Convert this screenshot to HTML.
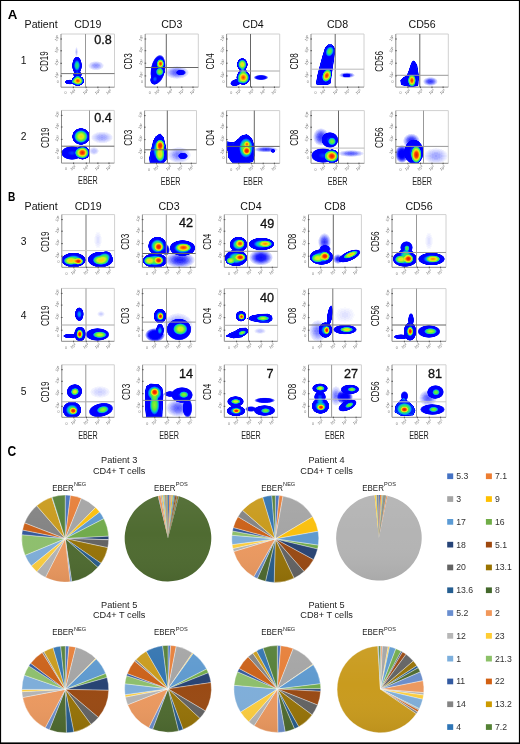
<!DOCTYPE html><html><head><meta charset="utf-8"><style>html,body{margin:0;padding:0;background:#fff;width:520px;height:744px;overflow:hidden}</style></head><body><svg width="520" height="744" viewBox="0 0 520 744" style="display:block;will-change:transform">
<defs>
<radialGradient id="bg"><stop offset="0" stop-opacity="1"/><stop offset="0.33" stop-opacity="0.87"/><stop offset="0.5" stop-opacity="0.72"/><stop offset="0.67" stop-opacity="0.52"/><stop offset="0.77" stop-opacity="0.4"/><stop offset="0.88" stop-opacity="0.26"/><stop offset="0.96" stop-opacity="0.13"/><stop offset="1" stop-opacity="0"/></radialGradient>
<filter id="jet" x="-20%" y="-20%" width="140%" height="140%" color-interpolation-filters="sRGB"><feGaussianBlur stdDeviation="0.5"/><feColorMatrix type="matrix" values="0 0 0 1 0  0 0 0 1 0  0 0 0 1 0  0 0 0 1 0"/><feComponentTransfer><feFuncR type="table" tableValues="0.45 0.294 0.15 0.025 0 0 0 0 0 0 0 0 0 0 0 0 0 0 0.0167 0.0583 0.1 0.183 0.267 0.338 0.4 0.462 0.538 0.631 0.725 0.813 0.875 0.938 1 1 1 0.998 0.985 0.972 0.956 0.938 0.92"/><feFuncG type="table" tableValues="0.5 0.344 0.188 0.0312 0 0 0 0 0 0 0 0 0 0.0208 0.125 0.229 0.367 0.513 0.642 0.746 0.85 0.871 0.892 0.904 0.91 0.916 0.924 0.933 0.943 0.941 0.894 0.847 0.8 0.693 0.586 0.479 0.375 0.271 0.201 0.141 0.08"/><feFuncB type="table" tableValues="1 1 1 1 1 1 1 1 1 1 1 1 1 1 1 1 0.983 0.962 0.892 0.746 0.6 0.475 0.35 0.281 0.25 0.219 0.194 0.178 0.162 0.144 0.112 0.0812 0.05 0.0321 0.0143 0 0 0 0.0143 0.0321 0.05"/><feFuncA type="table" tableValues="0 0.3 0.65 0.9 1 1 1 1 1 1 1 1 1 1 1 1 1 1 1 1 1 1 1 1 1 1 1 1 1 1 1 1 1 1 1 1 1 1 1 1 1"/></feComponentTransfer></filter>
<clipPath id="cp00"><rect x="61" y="34" width="53.50" height="53.20"/></clipPath>
<clipPath id="cp01"><rect x="145.2" y="34" width="53.10" height="53.10"/></clipPath>
<clipPath id="cp02"><rect x="226.6" y="34" width="53.10" height="53.10"/></clipPath>
<clipPath id="cp03"><rect x="311" y="34" width="53.00" height="53.10"/></clipPath>
<clipPath id="cp04"><rect x="395.8" y="34" width="52.50" height="53.10"/></clipPath>
<clipPath id="cp10"><rect x="61.5" y="110.4" width="52.80" height="52.70"/></clipPath>
<clipPath id="cp11"><rect x="144.6" y="110.6" width="51.90" height="52.70"/></clipPath>
<clipPath id="cp12"><rect x="226.6" y="110.6" width="53.10" height="52.70"/></clipPath>
<clipPath id="cp13"><rect x="311" y="110.6" width="53.30" height="52.70"/></clipPath>
<clipPath id="cp14"><rect x="395.8" y="110.6" width="52.50" height="52.70"/></clipPath>
<clipPath id="cp20"><rect x="61.8" y="214.6" width="52.80" height="52.70"/></clipPath>
<clipPath id="cp21"><rect x="142.4" y="214.6" width="53.30" height="52.70"/></clipPath>
<clipPath id="cp22"><rect x="224.3" y="214.6" width="53.30" height="52.70"/></clipPath>
<clipPath id="cp23"><rect x="308.5" y="214.6" width="52.90" height="52.70"/></clipPath>
<clipPath id="cp24"><rect x="392" y="214.6" width="54.00" height="52.70"/></clipPath>
<clipPath id="cp30"><rect x="61.5" y="288.4" width="52.80" height="52.90"/></clipPath>
<clipPath id="cp31"><rect x="142.4" y="288.6" width="53.30" height="52.70"/></clipPath>
<clipPath id="cp32"><rect x="224.3" y="288.6" width="53.30" height="52.70"/></clipPath>
<clipPath id="cp33"><rect x="308.5" y="288.6" width="52.90" height="52.70"/></clipPath>
<clipPath id="cp34"><rect x="392" y="288.6" width="54.00" height="52.70"/></clipPath>
<clipPath id="cp40"><rect x="61.8" y="364.8" width="52.50" height="52.50"/></clipPath>
<clipPath id="cp41"><rect x="142.6" y="364.8" width="53.10" height="52.50"/></clipPath>
<clipPath id="cp42"><rect x="224.3" y="364.8" width="53.30" height="52.50"/></clipPath>
<clipPath id="cp43"><rect x="308.5" y="364.8" width="52.90" height="52.50"/></clipPath>
<clipPath id="cp44"><rect x="392" y="364.8" width="54.00" height="52.50"/></clipPath>
<linearGradient id="pshade" x1="0" y1="0" x2="0" y2="1"><stop offset="0" stop-color="#fff" stop-opacity="0.05"/><stop offset="0.45" stop-color="#fff" stop-opacity="0"/><stop offset="1" stop-color="#000" stop-opacity="0.06"/></linearGradient>
</defs>
<rect width="520" height="744" fill="#fff"/>
<g font-family='"Liberation Sans", sans-serif'>
<text x="7.7" y="18.6" font-size="13.3" font-weight="bold" fill="#000">A</text>
<text transform="translate(8.1,201) scale(0.8,1)" font-size="12.7" font-weight="bold" fill="#000">B</text>
<text transform="translate(7.6,456.1) scale(0.86,1)" font-size="14" font-weight="bold" fill="#000">C</text>
<text x="24.6" y="28.3" font-size="10.6" text-anchor="start" font-weight="normal" fill="#111" >Patient</text>
<text x="24.6" y="210" font-size="10.6" text-anchor="start" font-weight="normal" fill="#111" >Patient</text>
<text x="87.75" y="28.3" font-size="10.6" text-anchor="middle" font-weight="normal" fill="#111" >CD19</text>
<text x="23.5" y="64.3" font-size="10.3" text-anchor="middle" font-weight="normal" fill="#111" >1</text>
<text transform="translate(48.0,61.5) rotate(-90) scale(0.72,1)" font-size="11.2" text-anchor="middle" fill="#111">CD19</text>
<g clip-path="url(#cp00)"><g filter="url(#jet)">
<ellipse cx="77" cy="65.5" rx="5" ry="9" fill="url(#bg)" fill-opacity="0.55"/>
<ellipse cx="77.5" cy="74.5" rx="4.5" ry="3.5" fill="url(#bg)" fill-opacity="0.35"/>
<ellipse cx="77.8" cy="80.8" rx="6.5" ry="5.2" fill="url(#bg)" fill-opacity="0.95"/>
<ellipse cx="70" cy="82" rx="5.5" ry="2.6" fill="url(#bg)" fill-opacity="0.35"/>
<ellipse cx="96" cy="65.7" rx="8" ry="4.7" fill="url(#bg)" fill-opacity="0.045"/>
<ellipse cx="76.5" cy="52" rx="1.5" ry="5" fill="url(#bg)" fill-opacity="0.03"/>
</g></g>
<path d="M61,34H114.5V87.2" fill="none" stroke="#d0d0d0" stroke-width="1"/>
<path d="M61,34V87.2H114.5" fill="none" stroke="#8a8a8a" stroke-width="1"/>
<line x1="85.5" y1="34" x2="85.5" y2="87.2" stroke="#999" stroke-width="1"/>
<line x1="61" y1="73.6" x2="114.5" y2="73.6" stroke="#777" stroke-width="1"/>
<text transform="translate(56.8,41.4) rotate(-62)" font-size="3.9" fill="#666">10<tspan font-size="2.8" dy="-1.4">5</tspan></text>
<rect x="60.4" y="38.5" width="1.6" height="1" fill="#555"/>
<text transform="translate(56.8,53.2) rotate(-62)" font-size="3.9" fill="#666">10<tspan font-size="2.8" dy="-1.4">4</tspan></text>
<rect x="60.4" y="50.3" width="1.6" height="1" fill="#555"/>
<text transform="translate(56.8,65.7) rotate(-62)" font-size="3.9" fill="#666">10<tspan font-size="2.8" dy="-1.4">3</tspan></text>
<rect x="60.4" y="62.8" width="1.6" height="1" fill="#555"/>
<text transform="translate(56.8,78.4) rotate(-62)" font-size="3.9" fill="#666">10<tspan font-size="2.8" dy="-1.4">2</tspan></text>
<rect x="60.4" y="75.5" width="1.6" height="1" fill="#555"/>
<text x="56.8" y="83.2" font-size="3.6" fill="#777">0</text>
<text transform="translate(71.3,94.8) rotate(-35)" font-size="3.9" fill="#666">10<tspan font-size="2.8" dy="-1.4">2</tspan></text>
<rect x="72.8" y="86.6" width="1" height="1.6" fill="#555"/>
<text transform="translate(84.1,94.8) rotate(-35)" font-size="3.9" fill="#666">10<tspan font-size="2.8" dy="-1.4">3</tspan></text>
<rect x="85.6" y="86.6" width="1" height="1.6" fill="#555"/>
<text transform="translate(95.9,94.8) rotate(-35)" font-size="3.9" fill="#666">10<tspan font-size="2.8" dy="-1.4">4</tspan></text>
<rect x="97.4" y="86.6" width="1" height="1.6" fill="#555"/>
<text transform="translate(107.2,94.8) rotate(-35)" font-size="3.9" fill="#666">10<tspan font-size="2.8" dy="-1.4">5</tspan></text>
<rect x="108.7" y="86.6" width="1" height="1.6" fill="#555"/>
<text x="64.6" y="94.4" font-size="3.6" fill="#777">0</text>
<text x="111.8" y="43.8" font-size="12.6" text-anchor="end" fill="#111" stroke="#111" stroke-width="0.32">0.8</text>
<text x="171.75" y="28.3" font-size="10.6" text-anchor="middle" font-weight="normal" fill="#111" >CD3</text>
<text transform="translate(132.2,61.4) rotate(-90) scale(0.72,1)" font-size="11.2" text-anchor="middle" fill="#111">CD3</text>
<g clip-path="url(#cp01)"><g filter="url(#jet)">
<ellipse cx="158" cy="69.5" rx="7.5" ry="15" fill="url(#bg)" fill-opacity="0.32" transform="rotate(10 158 69.5)"/>
<ellipse cx="160.5" cy="63.7" rx="4" ry="5" fill="url(#bg)" fill-opacity="0.95"/>
<ellipse cx="160.2" cy="72" rx="4.5" ry="4.5" fill="url(#bg)" fill-opacity="0.55"/>
<ellipse cx="154.5" cy="80" rx="4.5" ry="5" fill="url(#bg)" fill-opacity="0.3"/>
<ellipse cx="177" cy="72.5" rx="12" ry="6.5" fill="url(#bg)" fill-opacity="0.06"/>
<ellipse cx="181" cy="72.5" rx="5" ry="3" fill="url(#bg)" fill-opacity="0.12"/>
</g></g>
<path d="M145.2,34H198.3V87.1" fill="none" stroke="#d0d0d0" stroke-width="1"/>
<path d="M145.2,34V87.1H198.3" fill="none" stroke="#8a8a8a" stroke-width="1"/>
<line x1="166.3" y1="34" x2="166.3" y2="87.1" stroke="#666" stroke-width="1"/>
<line x1="145.2" y1="67.5" x2="198.3" y2="67.5" stroke="#666" stroke-width="1"/>
<text transform="translate(141.0,41.4) rotate(-62)" font-size="3.9" fill="#666">10<tspan font-size="2.8" dy="-1.4">5</tspan></text>
<rect x="144.6" y="38.5" width="1.6" height="1" fill="#555"/>
<text transform="translate(141.0,53.1) rotate(-62)" font-size="3.9" fill="#666">10<tspan font-size="2.8" dy="-1.4">4</tspan></text>
<rect x="144.6" y="50.2" width="1.6" height="1" fill="#555"/>
<text transform="translate(141.0,65.6) rotate(-62)" font-size="3.9" fill="#666">10<tspan font-size="2.8" dy="-1.4">3</tspan></text>
<rect x="144.6" y="62.7" width="1.6" height="1" fill="#555"/>
<text transform="translate(141.0,78.3) rotate(-62)" font-size="3.9" fill="#666">10<tspan font-size="2.8" dy="-1.4">2</tspan></text>
<rect x="144.6" y="75.4" width="1.6" height="1" fill="#555"/>
<text x="141.0" y="83.1" font-size="3.6" fill="#777">0</text>
<text transform="translate(155.4,94.7) rotate(-35)" font-size="3.9" fill="#666">10<tspan font-size="2.8" dy="-1.4">2</tspan></text>
<rect x="156.9" y="86.5" width="1" height="1.6" fill="#555"/>
<text transform="translate(168.2,94.7) rotate(-35)" font-size="3.9" fill="#666">10<tspan font-size="2.8" dy="-1.4">3</tspan></text>
<rect x="169.7" y="86.5" width="1" height="1.6" fill="#555"/>
<text transform="translate(179.8,94.7) rotate(-35)" font-size="3.9" fill="#666">10<tspan font-size="2.8" dy="-1.4">4</tspan></text>
<rect x="181.3" y="86.5" width="1" height="1.6" fill="#555"/>
<text transform="translate(191.0,94.7) rotate(-35)" font-size="3.9" fill="#666">10<tspan font-size="2.8" dy="-1.4">5</tspan></text>
<rect x="192.5" y="86.5" width="1" height="1.6" fill="#555"/>
<text x="148.8" y="94.3" font-size="3.6" fill="#777">0</text>
<text x="253.14999999999998" y="28.3" font-size="10.6" text-anchor="middle" font-weight="normal" fill="#111" >CD4</text>
<text transform="translate(213.6,61.4) rotate(-90) scale(0.72,1)" font-size="11.2" text-anchor="middle" fill="#111">CD4</text>
<g clip-path="url(#cp02)"><g filter="url(#jet)">
<ellipse cx="242.3" cy="64.5" rx="5.5" ry="6.5" fill="url(#bg)" fill-opacity="0.8"/>
<ellipse cx="243" cy="71" rx="4" ry="3" fill="url(#bg)" fill-opacity="0.3"/>
<ellipse cx="243.3" cy="77.5" rx="7" ry="7.5" fill="url(#bg)" fill-opacity="0.95"/>
<ellipse cx="236" cy="82.5" rx="6" ry="3.5" fill="url(#bg)" fill-opacity="0.32" transform="rotate(-15 236 82.5)"/>
<ellipse cx="261" cy="77.5" rx="7.5" ry="2.8" fill="url(#bg)" fill-opacity="0.16"/>
</g></g>
<path d="M226.6,34H279.7V87.1" fill="none" stroke="#d0d0d0" stroke-width="1"/>
<path d="M226.6,34V87.1H279.7" fill="none" stroke="#8a8a8a" stroke-width="1"/>
<line x1="250.5" y1="34" x2="250.5" y2="87.1" stroke="#666" stroke-width="1"/>
<line x1="226.6" y1="71" x2="279.7" y2="71" stroke="#aaa" stroke-width="1"/>
<text transform="translate(222.4,41.4) rotate(-62)" font-size="3.9" fill="#666">10<tspan font-size="2.8" dy="-1.4">5</tspan></text>
<rect x="226.0" y="38.5" width="1.6" height="1" fill="#555"/>
<text transform="translate(222.4,53.1) rotate(-62)" font-size="3.9" fill="#666">10<tspan font-size="2.8" dy="-1.4">4</tspan></text>
<rect x="226.0" y="50.2" width="1.6" height="1" fill="#555"/>
<text transform="translate(222.4,65.6) rotate(-62)" font-size="3.9" fill="#666">10<tspan font-size="2.8" dy="-1.4">3</tspan></text>
<rect x="226.0" y="62.7" width="1.6" height="1" fill="#555"/>
<text transform="translate(222.4,78.3) rotate(-62)" font-size="3.9" fill="#666">10<tspan font-size="2.8" dy="-1.4">2</tspan></text>
<rect x="226.0" y="75.4" width="1.6" height="1" fill="#555"/>
<text x="222.4" y="83.1" font-size="3.6" fill="#777">0</text>
<text transform="translate(236.8,94.7) rotate(-35)" font-size="3.9" fill="#666">10<tspan font-size="2.8" dy="-1.4">2</tspan></text>
<rect x="238.3" y="86.5" width="1" height="1.6" fill="#555"/>
<text transform="translate(249.6,94.7) rotate(-35)" font-size="3.9" fill="#666">10<tspan font-size="2.8" dy="-1.4">3</tspan></text>
<rect x="251.1" y="86.5" width="1" height="1.6" fill="#555"/>
<text transform="translate(261.2,94.7) rotate(-35)" font-size="3.9" fill="#666">10<tspan font-size="2.8" dy="-1.4">4</tspan></text>
<rect x="262.7" y="86.5" width="1" height="1.6" fill="#555"/>
<text transform="translate(272.4,94.7) rotate(-35)" font-size="3.9" fill="#666">10<tspan font-size="2.8" dy="-1.4">5</tspan></text>
<rect x="273.9" y="86.5" width="1" height="1.6" fill="#555"/>
<text x="230.2" y="94.3" font-size="3.6" fill="#777">0</text>
<text x="337.5" y="28.3" font-size="10.6" text-anchor="middle" font-weight="normal" fill="#111" >CD8</text>
<text transform="translate(298.0,61.4) rotate(-90) scale(0.72,1)" font-size="11.2" text-anchor="middle" fill="#111">CD8</text>
<g clip-path="url(#cp03)"><g filter="url(#jet)">
<polygon points="316.4,84 318,75 320,67 323,56 325.5,48 328,45 332,45 334.5,48.5 334,55 332.5,66 331,76 330,83.5 326,84.5" fill="#000" fill-opacity="0.3" stroke="#000" stroke-opacity="0.150" stroke-width="1" stroke-linejoin="round"/>
<ellipse cx="329.7" cy="51.5" rx="4" ry="5.5" fill="url(#bg)" fill-opacity="0.42" transform="rotate(22 329.7 51.5)"/>
<ellipse cx="326.8" cy="75.6" rx="4.5" ry="6.5" fill="url(#bg)" fill-opacity="0.95" transform="rotate(20 326.8 75.6)"/>
<ellipse cx="347" cy="75.2" rx="8" ry="3" fill="url(#bg)" fill-opacity="0.08"/>
<ellipse cx="346.5" cy="75.5" rx="4" ry="2" fill="url(#bg)" fill-opacity="0.12"/>
</g></g>
<path d="M311,34H364V87.1" fill="none" stroke="#d0d0d0" stroke-width="1"/>
<path d="M311,34V87.1H364" fill="none" stroke="#8a8a8a" stroke-width="1"/>
<line x1="335.2" y1="34" x2="335.2" y2="87.1" stroke="#666" stroke-width="1"/>
<line x1="311" y1="69.2" x2="364" y2="69.2" stroke="#bbb" stroke-width="1"/>
<text transform="translate(306.8,41.4) rotate(-62)" font-size="3.9" fill="#666">10<tspan font-size="2.8" dy="-1.4">5</tspan></text>
<rect x="310.4" y="38.5" width="1.6" height="1" fill="#555"/>
<text transform="translate(306.8,53.1) rotate(-62)" font-size="3.9" fill="#666">10<tspan font-size="2.8" dy="-1.4">4</tspan></text>
<rect x="310.4" y="50.2" width="1.6" height="1" fill="#555"/>
<text transform="translate(306.8,65.6) rotate(-62)" font-size="3.9" fill="#666">10<tspan font-size="2.8" dy="-1.4">3</tspan></text>
<rect x="310.4" y="62.7" width="1.6" height="1" fill="#555"/>
<text transform="translate(306.8,78.3) rotate(-62)" font-size="3.9" fill="#666">10<tspan font-size="2.8" dy="-1.4">2</tspan></text>
<rect x="310.4" y="75.4" width="1.6" height="1" fill="#555"/>
<text x="306.8" y="83.1" font-size="3.6" fill="#777">0</text>
<text transform="translate(321.2,94.7) rotate(-35)" font-size="3.9" fill="#666">10<tspan font-size="2.8" dy="-1.4">2</tspan></text>
<rect x="322.7" y="86.5" width="1" height="1.6" fill="#555"/>
<text transform="translate(333.9,94.7) rotate(-35)" font-size="3.9" fill="#666">10<tspan font-size="2.8" dy="-1.4">3</tspan></text>
<rect x="335.4" y="86.5" width="1" height="1.6" fill="#555"/>
<text transform="translate(345.6,94.7) rotate(-35)" font-size="3.9" fill="#666">10<tspan font-size="2.8" dy="-1.4">4</tspan></text>
<rect x="347.1" y="86.5" width="1" height="1.6" fill="#555"/>
<text transform="translate(356.7,94.7) rotate(-35)" font-size="3.9" fill="#666">10<tspan font-size="2.8" dy="-1.4">5</tspan></text>
<rect x="358.2" y="86.5" width="1" height="1.6" fill="#555"/>
<text x="314.6" y="94.3" font-size="3.6" fill="#777">0</text>
<text x="422.05" y="28.3" font-size="10.6" text-anchor="middle" font-weight="normal" fill="#111" >CD56</text>
<text transform="translate(382.8,61.4) rotate(-90) scale(0.72,1)" font-size="11.2" text-anchor="middle" fill="#111">CD56</text>
<g clip-path="url(#cp04)"><g filter="url(#jet)">
<polygon points="401,80.5 401.5,84.5 410.8,86.5 417.7,85.5 418.3,76 416.5,64.5 413.7,61 412,62.5 409,71.5 407,76 403,78" fill="#000" fill-opacity="0.3" stroke="#000" stroke-opacity="0.150" stroke-width="1" stroke-linejoin="round"/>
<ellipse cx="411.9" cy="80.5" rx="4" ry="6" fill="url(#bg)" fill-opacity="0.95"/>
<ellipse cx="430.4" cy="81.5" rx="7.5" ry="4.5" fill="url(#bg)" fill-opacity="0.07"/>
</g></g>
<path d="M395.8,34H448.3V87.1" fill="none" stroke="#d0d0d0" stroke-width="1"/>
<path d="M395.8,34V87.1H448.3" fill="none" stroke="#8a8a8a" stroke-width="1"/>
<line x1="419.8" y1="34" x2="419.8" y2="87.1" stroke="#666" stroke-width="1"/>
<line x1="395.8" y1="75.3" x2="448.3" y2="75.3" stroke="#999" stroke-width="1"/>
<text transform="translate(391.6,41.4) rotate(-62)" font-size="3.9" fill="#666">10<tspan font-size="2.8" dy="-1.4">5</tspan></text>
<rect x="395.2" y="38.5" width="1.6" height="1" fill="#555"/>
<text transform="translate(391.6,53.1) rotate(-62)" font-size="3.9" fill="#666">10<tspan font-size="2.8" dy="-1.4">4</tspan></text>
<rect x="395.2" y="50.2" width="1.6" height="1" fill="#555"/>
<text transform="translate(391.6,65.6) rotate(-62)" font-size="3.9" fill="#666">10<tspan font-size="2.8" dy="-1.4">3</tspan></text>
<rect x="395.2" y="62.7" width="1.6" height="1" fill="#555"/>
<text transform="translate(391.6,78.3) rotate(-62)" font-size="3.9" fill="#666">10<tspan font-size="2.8" dy="-1.4">2</tspan></text>
<rect x="395.2" y="75.4" width="1.6" height="1" fill="#555"/>
<text x="391.6" y="83.1" font-size="3.6" fill="#777">0</text>
<text transform="translate(405.9,94.7) rotate(-35)" font-size="3.9" fill="#666">10<tspan font-size="2.8" dy="-1.4">2</tspan></text>
<rect x="407.4" y="86.5" width="1" height="1.6" fill="#555"/>
<text transform="translate(418.5,94.7) rotate(-35)" font-size="3.9" fill="#666">10<tspan font-size="2.8" dy="-1.4">3</tspan></text>
<rect x="420.0" y="86.5" width="1" height="1.6" fill="#555"/>
<text transform="translate(430.0,94.7) rotate(-35)" font-size="3.9" fill="#666">10<tspan font-size="2.8" dy="-1.4">4</tspan></text>
<rect x="431.5" y="86.5" width="1" height="1.6" fill="#555"/>
<text transform="translate(441.1,94.7) rotate(-35)" font-size="3.9" fill="#666">10<tspan font-size="2.8" dy="-1.4">5</tspan></text>
<rect x="442.6" y="86.5" width="1" height="1.6" fill="#555"/>
<text x="399.4" y="94.3" font-size="3.6" fill="#777">0</text>
<text x="23.5" y="140.45" font-size="10.3" text-anchor="middle" font-weight="normal" fill="#111" >2</text>
<text transform="translate(48.5,137.7) rotate(-90) scale(0.72,1)" font-size="11.2" text-anchor="middle" fill="#111">CD19</text>
<g clip-path="url(#cp10)"><g filter="url(#jet)">
<ellipse cx="81" cy="136.5" rx="9" ry="8.5" fill="url(#bg)" fill-opacity="0.8"/>
<ellipse cx="82.5" cy="152.7" rx="7.5" ry="7" fill="url(#bg)" fill-opacity="1.0"/>
<ellipse cx="72" cy="153" rx="11" ry="7" fill="url(#bg)" fill-opacity="0.38"/>
<ellipse cx="102" cy="137.5" rx="11" ry="6" fill="url(#bg)" fill-opacity="0.04"/>
<ellipse cx="94" cy="151" rx="5" ry="4" fill="url(#bg)" fill-opacity="0.03"/>
</g></g>
<path d="M61.5,110.4H114.3V163.1" fill="none" stroke="#d0d0d0" stroke-width="1"/>
<path d="M61.5,110.4V163.1H114.3" fill="none" stroke="#8a8a8a" stroke-width="1"/>
<line x1="89.5" y1="110.4" x2="89.5" y2="163.1" stroke="#999" stroke-width="1"/>
<line x1="61.5" y1="146.2" x2="114.3" y2="146.2" stroke="#666" stroke-width="1"/>
<text transform="translate(57.3,117.8) rotate(-62)" font-size="3.9" fill="#666">10<tspan font-size="2.8" dy="-1.4">5</tspan></text>
<rect x="60.9" y="114.9" width="1.6" height="1" fill="#555"/>
<text transform="translate(57.3,129.4) rotate(-62)" font-size="3.9" fill="#666">10<tspan font-size="2.8" dy="-1.4">4</tspan></text>
<rect x="60.9" y="126.5" width="1.6" height="1" fill="#555"/>
<text transform="translate(57.3,141.8) rotate(-62)" font-size="3.9" fill="#666">10<tspan font-size="2.8" dy="-1.4">3</tspan></text>
<rect x="60.9" y="138.9" width="1.6" height="1" fill="#555"/>
<text transform="translate(57.3,154.4) rotate(-62)" font-size="3.9" fill="#666">10<tspan font-size="2.8" dy="-1.4">2</tspan></text>
<rect x="60.9" y="151.5" width="1.6" height="1" fill="#555"/>
<text x="57.3" y="159.1" font-size="3.6" fill="#777">0</text>
<text transform="translate(71.6,170.7) rotate(-35)" font-size="3.9" fill="#666">10<tspan font-size="2.8" dy="-1.4">2</tspan></text>
<rect x="73.1" y="162.5" width="1" height="1.6" fill="#555"/>
<text transform="translate(84.3,170.7) rotate(-35)" font-size="3.9" fill="#666">10<tspan font-size="2.8" dy="-1.4">3</tspan></text>
<rect x="85.8" y="162.5" width="1" height="1.6" fill="#555"/>
<text transform="translate(95.9,170.7) rotate(-35)" font-size="3.9" fill="#666">10<tspan font-size="2.8" dy="-1.4">4</tspan></text>
<rect x="97.4" y="162.5" width="1" height="1.6" fill="#555"/>
<text transform="translate(107.0,170.7) rotate(-35)" font-size="3.9" fill="#666">10<tspan font-size="2.8" dy="-1.4">5</tspan></text>
<rect x="108.5" y="162.5" width="1" height="1.6" fill="#555"/>
<text x="65.1" y="170.3" font-size="3.6" fill="#777">0</text>
<text x="111.8" y="122.3" font-size="12.6" text-anchor="end" fill="#111" stroke="#111" stroke-width="0.32">0.4</text>
<text transform="translate(87.9,184.4) scale(0.68,1)" font-size="10.6" text-anchor="middle" fill="#222">EBER</text>
<text transform="translate(131.6,137.8) rotate(-90) scale(0.72,1)" font-size="11.2" text-anchor="middle" fill="#111">CD3</text>
<g clip-path="url(#cp11)"><g filter="url(#jet)">
<polygon points="160.2,134 163,137 164.8,144 166.5,152 166,160 163,163.3 150.4,163.3 149.8,158 151.5,150 153.8,140.6 156.2,136.6" fill="#000" fill-opacity="0.3" stroke="#000" stroke-opacity="0.150" stroke-width="1" stroke-linejoin="round"/>
<ellipse cx="160.2" cy="145.6" rx="4.5" ry="6" fill="url(#bg)" fill-opacity="1.0"/>
<ellipse cx="160.2" cy="155" rx="4.5" ry="7" fill="url(#bg)" fill-opacity="0.58"/>
<ellipse cx="159" cy="150" rx="6" ry="10" fill="url(#bg)" fill-opacity="0.4"/>
<ellipse cx="179" cy="155" rx="12" ry="8" fill="url(#bg)" fill-opacity="0.05"/>
<ellipse cx="183" cy="156" rx="5" ry="3.5" fill="url(#bg)" fill-opacity="0.15"/>
</g></g>
<path d="M144.6,110.6H196.5V163.3" fill="none" stroke="#d0d0d0" stroke-width="1"/>
<path d="M144.6,110.6V163.3H196.5" fill="none" stroke="#8a8a8a" stroke-width="1"/>
<line x1="167.3" y1="110.6" x2="167.3" y2="163.3" stroke="#666" stroke-width="1"/>
<line x1="144.6" y1="149.8" x2="196.5" y2="149.8" stroke="#666" stroke-width="1"/>
<text transform="translate(140.4,118.0) rotate(-62)" font-size="3.9" fill="#666">10<tspan font-size="2.8" dy="-1.4">5</tspan></text>
<rect x="144.0" y="115.1" width="1.6" height="1" fill="#555"/>
<text transform="translate(140.4,129.6) rotate(-62)" font-size="3.9" fill="#666">10<tspan font-size="2.8" dy="-1.4">4</tspan></text>
<rect x="144.0" y="126.7" width="1.6" height="1" fill="#555"/>
<text transform="translate(140.4,142.0) rotate(-62)" font-size="3.9" fill="#666">10<tspan font-size="2.8" dy="-1.4">3</tspan></text>
<rect x="144.0" y="139.1" width="1.6" height="1" fill="#555"/>
<text transform="translate(140.4,154.6) rotate(-62)" font-size="3.9" fill="#666">10<tspan font-size="2.8" dy="-1.4">2</tspan></text>
<rect x="144.0" y="151.7" width="1.6" height="1" fill="#555"/>
<text x="140.4" y="159.3" font-size="3.6" fill="#777">0</text>
<text transform="translate(154.5,170.9) rotate(-35)" font-size="3.9" fill="#666">10<tspan font-size="2.8" dy="-1.4">2</tspan></text>
<rect x="156.0" y="162.7" width="1" height="1.6" fill="#555"/>
<text transform="translate(167.0,170.9) rotate(-35)" font-size="3.9" fill="#666">10<tspan font-size="2.8" dy="-1.4">3</tspan></text>
<rect x="168.5" y="162.7" width="1" height="1.6" fill="#555"/>
<text transform="translate(178.4,170.9) rotate(-35)" font-size="3.9" fill="#666">10<tspan font-size="2.8" dy="-1.4">4</tspan></text>
<rect x="179.9" y="162.7" width="1" height="1.6" fill="#555"/>
<text transform="translate(189.3,170.9) rotate(-35)" font-size="3.9" fill="#666">10<tspan font-size="2.8" dy="-1.4">5</tspan></text>
<rect x="190.8" y="162.7" width="1" height="1.6" fill="#555"/>
<text x="148.1" y="170.5" font-size="3.6" fill="#777">0</text>
<text transform="translate(170.6,184.6) scale(0.68,1)" font-size="10.6" text-anchor="middle" fill="#222">EBER</text>
<text transform="translate(213.6,137.8) rotate(-90) scale(0.72,1)" font-size="11.2" text-anchor="middle" fill="#111">CD4</text>
<g clip-path="url(#cp12)"><g filter="url(#jet)">
<polygon points="246.8,134.8 251.4,138.3 253.7,145.2 254.3,154.5 252.6,161.4 245,163.3 233.5,163.3 228.9,157.9 228.3,151 226.8,148.7 226.8,142 233.5,143 238.2,139.5 241.6,136" fill="#000" fill-opacity="0.3" stroke="#000" stroke-opacity="0.150" stroke-width="1" stroke-linejoin="round"/>
<ellipse cx="246" cy="148" rx="7" ry="10" fill="url(#bg)" fill-opacity="0.55"/>
<ellipse cx="246.8" cy="151" rx="4" ry="4" fill="url(#bg)" fill-opacity="1.0"/>
<ellipse cx="247" cy="144" rx="3" ry="3" fill="url(#bg)" fill-opacity="0.75"/>
<ellipse cx="266" cy="149.5" rx="12" ry="3" fill="url(#bg)" fill-opacity="0.07"/>
<ellipse cx="273" cy="151" rx="2.5" ry="2" fill="url(#bg)" fill-opacity="0.2"/>
</g></g>
<path d="M226.6,110.6H279.7V163.3" fill="none" stroke="#d0d0d0" stroke-width="1"/>
<path d="M226.6,110.6V163.3H279.7" fill="none" stroke="#8a8a8a" stroke-width="1"/>
<line x1="254.3" y1="110.6" x2="254.3" y2="163.3" stroke="#666" stroke-width="1"/>
<line x1="226.6" y1="146.4" x2="279.7" y2="146.4" stroke="#666" stroke-width="1"/>
<text transform="translate(222.4,118.0) rotate(-62)" font-size="3.9" fill="#666">10<tspan font-size="2.8" dy="-1.4">5</tspan></text>
<rect x="226.0" y="115.1" width="1.6" height="1" fill="#555"/>
<text transform="translate(222.4,129.6) rotate(-62)" font-size="3.9" fill="#666">10<tspan font-size="2.8" dy="-1.4">4</tspan></text>
<rect x="226.0" y="126.7" width="1.6" height="1" fill="#555"/>
<text transform="translate(222.4,142.0) rotate(-62)" font-size="3.9" fill="#666">10<tspan font-size="2.8" dy="-1.4">3</tspan></text>
<rect x="226.0" y="139.1" width="1.6" height="1" fill="#555"/>
<text transform="translate(222.4,154.6) rotate(-62)" font-size="3.9" fill="#666">10<tspan font-size="2.8" dy="-1.4">2</tspan></text>
<rect x="226.0" y="151.7" width="1.6" height="1" fill="#555"/>
<text x="222.4" y="159.3" font-size="3.6" fill="#777">0</text>
<text transform="translate(236.8,170.9) rotate(-35)" font-size="3.9" fill="#666">10<tspan font-size="2.8" dy="-1.4">2</tspan></text>
<rect x="238.3" y="162.7" width="1" height="1.6" fill="#555"/>
<text transform="translate(249.6,170.9) rotate(-35)" font-size="3.9" fill="#666">10<tspan font-size="2.8" dy="-1.4">3</tspan></text>
<rect x="251.1" y="162.7" width="1" height="1.6" fill="#555"/>
<text transform="translate(261.2,170.9) rotate(-35)" font-size="3.9" fill="#666">10<tspan font-size="2.8" dy="-1.4">4</tspan></text>
<rect x="262.7" y="162.7" width="1" height="1.6" fill="#555"/>
<text transform="translate(272.4,170.9) rotate(-35)" font-size="3.9" fill="#666">10<tspan font-size="2.8" dy="-1.4">5</tspan></text>
<rect x="273.9" y="162.7" width="1" height="1.6" fill="#555"/>
<text x="230.2" y="170.5" font-size="3.6" fill="#777">0</text>
<text transform="translate(253.1,184.6) scale(0.68,1)" font-size="10.6" text-anchor="middle" fill="#222">EBER</text>
<text transform="translate(298.0,137.8) rotate(-90) scale(0.72,1)" font-size="11.2" text-anchor="middle" fill="#111">CD8</text>
<g clip-path="url(#cp13)"><g filter="url(#jet)">
<ellipse cx="330" cy="140" rx="8.5" ry="8" fill="url(#bg)" fill-opacity="0.38"/>
<ellipse cx="332.5" cy="141.8" rx="4.5" ry="4.5" fill="url(#bg)" fill-opacity="0.47"/>
<ellipse cx="321" cy="137" rx="8" ry="9" fill="url(#bg)" fill-opacity="0.07"/>
<ellipse cx="332" cy="156.2" rx="7.5" ry="7" fill="url(#bg)" fill-opacity="1.0"/>
<ellipse cx="323" cy="155.5" rx="12" ry="7.5" fill="url(#bg)" fill-opacity="0.38"/>
<ellipse cx="351" cy="153.5" rx="13" ry="3.5" fill="url(#bg)" fill-opacity="0.06"/>
</g></g>
<path d="M311,110.6H364.3V163.3" fill="none" stroke="#d0d0d0" stroke-width="1"/>
<path d="M311,110.6V163.3H364.3" fill="none" stroke="#8a8a8a" stroke-width="1"/>
<line x1="338.5" y1="110.6" x2="338.5" y2="163.3" stroke="#666" stroke-width="1"/>
<line x1="311" y1="148.1" x2="364.3" y2="148.1" stroke="#bbb" stroke-width="1"/>
<text transform="translate(306.8,118.0) rotate(-62)" font-size="3.9" fill="#666">10<tspan font-size="2.8" dy="-1.4">5</tspan></text>
<rect x="310.4" y="115.1" width="1.6" height="1" fill="#555"/>
<text transform="translate(306.8,129.6) rotate(-62)" font-size="3.9" fill="#666">10<tspan font-size="2.8" dy="-1.4">4</tspan></text>
<rect x="310.4" y="126.7" width="1.6" height="1" fill="#555"/>
<text transform="translate(306.8,142.0) rotate(-62)" font-size="3.9" fill="#666">10<tspan font-size="2.8" dy="-1.4">3</tspan></text>
<rect x="310.4" y="139.1" width="1.6" height="1" fill="#555"/>
<text transform="translate(306.8,154.6) rotate(-62)" font-size="3.9" fill="#666">10<tspan font-size="2.8" dy="-1.4">2</tspan></text>
<rect x="310.4" y="151.7" width="1.6" height="1" fill="#555"/>
<text x="306.8" y="159.3" font-size="3.6" fill="#777">0</text>
<text transform="translate(321.3,170.9) rotate(-35)" font-size="3.9" fill="#666">10<tspan font-size="2.8" dy="-1.4">2</tspan></text>
<rect x="322.8" y="162.7" width="1" height="1.6" fill="#555"/>
<text transform="translate(334.1,170.9) rotate(-35)" font-size="3.9" fill="#666">10<tspan font-size="2.8" dy="-1.4">3</tspan></text>
<rect x="335.6" y="162.7" width="1" height="1.6" fill="#555"/>
<text transform="translate(345.8,170.9) rotate(-35)" font-size="3.9" fill="#666">10<tspan font-size="2.8" dy="-1.4">4</tspan></text>
<rect x="347.3" y="162.7" width="1" height="1.6" fill="#555"/>
<text transform="translate(357.0,170.9) rotate(-35)" font-size="3.9" fill="#666">10<tspan font-size="2.8" dy="-1.4">5</tspan></text>
<rect x="358.5" y="162.7" width="1" height="1.6" fill="#555"/>
<text x="314.6" y="170.5" font-size="3.6" fill="#777">0</text>
<text transform="translate(337.6,184.6) scale(0.68,1)" font-size="10.6" text-anchor="middle" fill="#222">EBER</text>
<text transform="translate(382.8,137.8) rotate(-90) scale(0.72,1)" font-size="11.2" text-anchor="middle" fill="#111">CD56</text>
<g clip-path="url(#cp14)"><g filter="url(#jet)">
<ellipse cx="414" cy="152" rx="10" ry="12.5" fill="url(#bg)" fill-opacity="0.42"/>
<ellipse cx="402" cy="154" rx="7" ry="9" fill="url(#bg)" fill-opacity="0.12"/>
<ellipse cx="411.5" cy="141" rx="8.5" ry="7.5" fill="url(#bg)" fill-opacity="0.08"/>
<ellipse cx="416.5" cy="155" rx="5.5" ry="9" fill="url(#bg)" fill-opacity="1.0"/>
<ellipse cx="436" cy="156" rx="12" ry="8" fill="url(#bg)" fill-opacity="0.04"/>
</g></g>
<path d="M395.8,110.6H448.3V163.3" fill="none" stroke="#d0d0d0" stroke-width="1"/>
<path d="M395.8,110.6V163.3H448.3" fill="none" stroke="#8a8a8a" stroke-width="1"/>
<line x1="423.5" y1="110.6" x2="423.5" y2="163.3" stroke="#999" stroke-width="1"/>
<line x1="395.8" y1="146.4" x2="448.3" y2="146.4" stroke="#999" stroke-width="1"/>
<text transform="translate(391.6,118.0) rotate(-62)" font-size="3.9" fill="#666">10<tspan font-size="2.8" dy="-1.4">5</tspan></text>
<rect x="395.2" y="115.1" width="1.6" height="1" fill="#555"/>
<text transform="translate(391.6,129.6) rotate(-62)" font-size="3.9" fill="#666">10<tspan font-size="2.8" dy="-1.4">4</tspan></text>
<rect x="395.2" y="126.7" width="1.6" height="1" fill="#555"/>
<text transform="translate(391.6,142.0) rotate(-62)" font-size="3.9" fill="#666">10<tspan font-size="2.8" dy="-1.4">3</tspan></text>
<rect x="395.2" y="139.1" width="1.6" height="1" fill="#555"/>
<text transform="translate(391.6,154.6) rotate(-62)" font-size="3.9" fill="#666">10<tspan font-size="2.8" dy="-1.4">2</tspan></text>
<rect x="395.2" y="151.7" width="1.6" height="1" fill="#555"/>
<text x="391.6" y="159.3" font-size="3.6" fill="#777">0</text>
<text transform="translate(405.9,170.9) rotate(-35)" font-size="3.9" fill="#666">10<tspan font-size="2.8" dy="-1.4">2</tspan></text>
<rect x="407.4" y="162.7" width="1" height="1.6" fill="#555"/>
<text transform="translate(418.5,170.9) rotate(-35)" font-size="3.9" fill="#666">10<tspan font-size="2.8" dy="-1.4">3</tspan></text>
<rect x="420.0" y="162.7" width="1" height="1.6" fill="#555"/>
<text transform="translate(430.0,170.9) rotate(-35)" font-size="3.9" fill="#666">10<tspan font-size="2.8" dy="-1.4">4</tspan></text>
<rect x="431.5" y="162.7" width="1" height="1.6" fill="#555"/>
<text transform="translate(441.1,170.9) rotate(-35)" font-size="3.9" fill="#666">10<tspan font-size="2.8" dy="-1.4">5</tspan></text>
<rect x="442.6" y="162.7" width="1" height="1.6" fill="#555"/>
<text x="399.4" y="170.5" font-size="3.6" fill="#777">0</text>
<text transform="translate(422.1,184.6) scale(0.68,1)" font-size="10.6" text-anchor="middle" fill="#222">EBER</text>
<text x="88.19999999999999" y="209.7" font-size="10.6" text-anchor="middle" font-weight="normal" fill="#111" >CD19</text>
<text x="23.5" y="244.64999999999998" font-size="10.3" text-anchor="middle" font-weight="normal" fill="#111" >3</text>
<text transform="translate(48.8,241.8) rotate(-90) scale(0.72,1)" font-size="11.2" text-anchor="middle" fill="#111">CD19</text>
<g clip-path="url(#cp20)"><g filter="url(#jet)">
<ellipse cx="73.5" cy="260" rx="12.5" ry="7.5" fill="url(#bg)" fill-opacity="0.6"/>
<ellipse cx="78.5" cy="261.3" rx="5" ry="3.5" fill="url(#bg)" fill-opacity="1.0"/>
<ellipse cx="70" cy="261" rx="7" ry="4" fill="url(#bg)" fill-opacity="0.6"/>
<ellipse cx="100.5" cy="259.5" rx="13" ry="8" fill="url(#bg)" fill-opacity="0.55"/>
<ellipse cx="101" cy="260.5" rx="8" ry="4.5" fill="url(#bg)" fill-opacity="0.6"/>
<ellipse cx="106" cy="256" rx="6" ry="5" fill="url(#bg)" fill-opacity="0.35"/>
<ellipse cx="98" cy="240" rx="4" ry="9" fill="url(#bg)" fill-opacity="0.015"/>
</g></g>
<path d="M61.8,214.6H114.6V267.3" fill="none" stroke="#d0d0d0" stroke-width="1"/>
<path d="M61.8,214.6V267.3H114.6" fill="none" stroke="#8a8a8a" stroke-width="1"/>
<line x1="86" y1="214.6" x2="86" y2="267.3" stroke="#777" stroke-width="1"/>
<line x1="61.8" y1="250.6" x2="114.6" y2="250.6" stroke="#c8c8c8" stroke-width="1"/>
<text transform="translate(57.6,222.0) rotate(-62)" font-size="3.9" fill="#666">10<tspan font-size="2.8" dy="-1.4">5</tspan></text>
<rect x="61.2" y="219.1" width="1.6" height="1" fill="#555"/>
<text transform="translate(57.6,233.6) rotate(-62)" font-size="3.9" fill="#666">10<tspan font-size="2.8" dy="-1.4">4</tspan></text>
<rect x="61.2" y="230.7" width="1.6" height="1" fill="#555"/>
<text transform="translate(57.6,246.0) rotate(-62)" font-size="3.9" fill="#666">10<tspan font-size="2.8" dy="-1.4">3</tspan></text>
<rect x="61.2" y="243.1" width="1.6" height="1" fill="#555"/>
<text transform="translate(57.6,258.6) rotate(-62)" font-size="3.9" fill="#666">10<tspan font-size="2.8" dy="-1.4">2</tspan></text>
<rect x="61.2" y="255.7" width="1.6" height="1" fill="#555"/>
<text x="57.6" y="263.3" font-size="3.6" fill="#777">0</text>
<text transform="translate(71.9,274.9) rotate(-35)" font-size="3.9" fill="#666">10<tspan font-size="2.8" dy="-1.4">2</tspan></text>
<rect x="73.4" y="266.7" width="1" height="1.6" fill="#555"/>
<text transform="translate(84.6,274.9) rotate(-35)" font-size="3.9" fill="#666">10<tspan font-size="2.8" dy="-1.4">3</tspan></text>
<rect x="86.1" y="266.7" width="1" height="1.6" fill="#555"/>
<text transform="translate(96.2,274.9) rotate(-35)" font-size="3.9" fill="#666">10<tspan font-size="2.8" dy="-1.4">4</tspan></text>
<rect x="97.7" y="266.7" width="1" height="1.6" fill="#555"/>
<text transform="translate(107.3,274.9) rotate(-35)" font-size="3.9" fill="#666">10<tspan font-size="2.8" dy="-1.4">5</tspan></text>
<rect x="108.8" y="266.7" width="1" height="1.6" fill="#555"/>
<text x="65.4" y="274.5" font-size="3.6" fill="#777">0</text>
<text x="169.05" y="209.7" font-size="10.6" text-anchor="middle" font-weight="normal" fill="#111" >CD3</text>
<text transform="translate(129.4,241.8) rotate(-90) scale(0.72,1)" font-size="11.2" text-anchor="middle" fill="#111">CD3</text>
<g clip-path="url(#cp21)"><g filter="url(#jet)">
<ellipse cx="157.5" cy="246" rx="9.5" ry="9.5" fill="url(#bg)" fill-opacity="0.68"/>
<ellipse cx="158.8" cy="246.9" rx="4.5" ry="4.5" fill="url(#bg)" fill-opacity="1.0"/>
<ellipse cx="155" cy="260.5" rx="12.5" ry="7.5" fill="url(#bg)" fill-opacity="0.65"/>
<ellipse cx="158.8" cy="260.4" rx="4.5" ry="4" fill="url(#bg)" fill-opacity="1.0"/>
<ellipse cx="148.4" cy="260.8" rx="5.5" ry="4.5" fill="url(#bg)" fill-opacity="0.6"/>
<ellipse cx="182.5" cy="248" rx="13" ry="8" fill="url(#bg)" fill-opacity="0.6"/>
<ellipse cx="183.6" cy="247.5" rx="7.5" ry="4" fill="url(#bg)" fill-opacity="0.85"/>
<ellipse cx="180" cy="260" rx="15" ry="8" fill="url(#bg)" fill-opacity="0.08"/>
<ellipse cx="166" cy="250" rx="4" ry="6" fill="url(#bg)" fill-opacity="0.15"/>
</g></g>
<path d="M142.4,214.6H195.7V267.3" fill="none" stroke="#d0d0d0" stroke-width="1"/>
<path d="M142.4,214.6V267.3H195.7" fill="none" stroke="#8a8a8a" stroke-width="1"/>
<line x1="166.3" y1="214.6" x2="166.3" y2="267.3" stroke="#999" stroke-width="1"/>
<line x1="142.4" y1="253.5" x2="195.7" y2="253.5" stroke="#666" stroke-width="1"/>
<text transform="translate(138.2,222.0) rotate(-62)" font-size="3.9" fill="#666">10<tspan font-size="2.8" dy="-1.4">5</tspan></text>
<rect x="141.8" y="219.1" width="1.6" height="1" fill="#555"/>
<text transform="translate(138.2,233.6) rotate(-62)" font-size="3.9" fill="#666">10<tspan font-size="2.8" dy="-1.4">4</tspan></text>
<rect x="141.8" y="230.7" width="1.6" height="1" fill="#555"/>
<text transform="translate(138.2,246.0) rotate(-62)" font-size="3.9" fill="#666">10<tspan font-size="2.8" dy="-1.4">3</tspan></text>
<rect x="141.8" y="243.1" width="1.6" height="1" fill="#555"/>
<text transform="translate(138.2,258.6) rotate(-62)" font-size="3.9" fill="#666">10<tspan font-size="2.8" dy="-1.4">2</tspan></text>
<rect x="141.8" y="255.7" width="1.6" height="1" fill="#555"/>
<text x="138.2" y="263.3" font-size="3.6" fill="#777">0</text>
<text transform="translate(152.7,274.9) rotate(-35)" font-size="3.9" fill="#666">10<tspan font-size="2.8" dy="-1.4">2</tspan></text>
<rect x="154.2" y="266.7" width="1" height="1.6" fill="#555"/>
<text transform="translate(165.5,274.9) rotate(-35)" font-size="3.9" fill="#666">10<tspan font-size="2.8" dy="-1.4">3</tspan></text>
<rect x="167.0" y="266.7" width="1" height="1.6" fill="#555"/>
<text transform="translate(177.2,274.9) rotate(-35)" font-size="3.9" fill="#666">10<tspan font-size="2.8" dy="-1.4">4</tspan></text>
<rect x="178.7" y="266.7" width="1" height="1.6" fill="#555"/>
<text transform="translate(188.4,274.9) rotate(-35)" font-size="3.9" fill="#666">10<tspan font-size="2.8" dy="-1.4">5</tspan></text>
<rect x="189.9" y="266.7" width="1" height="1.6" fill="#555"/>
<text x="146.0" y="274.5" font-size="3.6" fill="#777">0</text>
<text x="193.1" y="227.3" font-size="12.6" text-anchor="end" fill="#111" stroke="#111" stroke-width="0.32">42</text>
<text x="250.95000000000002" y="209.7" font-size="10.6" text-anchor="middle" font-weight="normal" fill="#111" >CD4</text>
<text transform="translate(211.3,241.8) rotate(-90) scale(0.72,1)" font-size="11.2" text-anchor="middle" fill="#111">CD4</text>
<g clip-path="url(#cp22)"><g filter="url(#jet)">
<ellipse cx="238.5" cy="244.5" rx="9" ry="8" fill="url(#bg)" fill-opacity="0.62"/>
<ellipse cx="240.2" cy="243.5" rx="4.5" ry="4" fill="url(#bg)" fill-opacity="0.85"/>
<ellipse cx="236" cy="258" rx="11.5" ry="8.5" fill="url(#bg)" fill-opacity="0.6"/>
<ellipse cx="240.5" cy="257.3" rx="5.5" ry="3.8" fill="url(#bg)" fill-opacity="1.0"/>
<ellipse cx="230" cy="261" rx="4.5" ry="3.5" fill="url(#bg)" fill-opacity="0.6"/>
<ellipse cx="261.5" cy="244" rx="13" ry="6.5" fill="url(#bg)" fill-opacity="0.55"/>
<ellipse cx="265.8" cy="243.8" rx="7" ry="3.5" fill="url(#bg)" fill-opacity="0.75"/>
<ellipse cx="261" cy="257.5" rx="12" ry="8" fill="url(#bg)" fill-opacity="0.09"/>
</g></g>
<path d="M224.3,214.6H277.6V267.3" fill="none" stroke="#d0d0d0" stroke-width="1"/>
<path d="M224.3,214.6V267.3H277.6" fill="none" stroke="#8a8a8a" stroke-width="1"/>
<line x1="247.6" y1="214.6" x2="247.6" y2="267.3" stroke="#999" stroke-width="1"/>
<line x1="224.3" y1="251.3" x2="277.6" y2="251.3" stroke="#999" stroke-width="1"/>
<text transform="translate(220.1,222.0) rotate(-62)" font-size="3.9" fill="#666">10<tspan font-size="2.8" dy="-1.4">5</tspan></text>
<rect x="223.7" y="219.1" width="1.6" height="1" fill="#555"/>
<text transform="translate(220.1,233.6) rotate(-62)" font-size="3.9" fill="#666">10<tspan font-size="2.8" dy="-1.4">4</tspan></text>
<rect x="223.7" y="230.7" width="1.6" height="1" fill="#555"/>
<text transform="translate(220.1,246.0) rotate(-62)" font-size="3.9" fill="#666">10<tspan font-size="2.8" dy="-1.4">3</tspan></text>
<rect x="223.7" y="243.1" width="1.6" height="1" fill="#555"/>
<text transform="translate(220.1,258.6) rotate(-62)" font-size="3.9" fill="#666">10<tspan font-size="2.8" dy="-1.4">2</tspan></text>
<rect x="223.7" y="255.7" width="1.6" height="1" fill="#555"/>
<text x="220.1" y="263.3" font-size="3.6" fill="#777">0</text>
<text transform="translate(234.6,274.9) rotate(-35)" font-size="3.9" fill="#666">10<tspan font-size="2.8" dy="-1.4">2</tspan></text>
<rect x="236.1" y="266.7" width="1" height="1.6" fill="#555"/>
<text transform="translate(247.4,274.9) rotate(-35)" font-size="3.9" fill="#666">10<tspan font-size="2.8" dy="-1.4">3</tspan></text>
<rect x="248.9" y="266.7" width="1" height="1.6" fill="#555"/>
<text transform="translate(259.1,274.9) rotate(-35)" font-size="3.9" fill="#666">10<tspan font-size="2.8" dy="-1.4">4</tspan></text>
<rect x="260.6" y="266.7" width="1" height="1.6" fill="#555"/>
<text transform="translate(270.3,274.9) rotate(-35)" font-size="3.9" fill="#666">10<tspan font-size="2.8" dy="-1.4">5</tspan></text>
<rect x="271.8" y="266.7" width="1" height="1.6" fill="#555"/>
<text x="227.9" y="274.5" font-size="3.6" fill="#777">0</text>
<text x="274.3" y="227.5" font-size="12.6" text-anchor="end" fill="#111" stroke="#111" stroke-width="0.32">49</text>
<text x="334.95" y="209.7" font-size="10.6" text-anchor="middle" font-weight="normal" fill="#111" >CD8</text>
<text transform="translate(295.5,241.8) rotate(-90) scale(0.72,1)" font-size="11.2" text-anchor="middle" fill="#111">CD8</text>
<g clip-path="url(#cp23)"><g filter="url(#jet)">
<ellipse cx="321.5" cy="257" rx="12" ry="8" fill="url(#bg)" fill-opacity="0.58"/>
<ellipse cx="325" cy="256.2" rx="5" ry="4.5" fill="url(#bg)" fill-opacity="1.0"/>
<ellipse cx="316.5" cy="258.5" rx="6.5" ry="4.5" fill="url(#bg)" fill-opacity="0.55"/>
<ellipse cx="324.5" cy="242" rx="6.5" ry="9" fill="url(#bg)" fill-opacity="0.07"/>
<ellipse cx="325" cy="249" rx="6" ry="4" fill="url(#bg)" fill-opacity="0.2"/>
<ellipse cx="349.5" cy="256" rx="12" ry="5" fill="url(#bg)" fill-opacity="0.4" transform="rotate(-24 349.5 256)"/>
<ellipse cx="351" cy="254.4" rx="8.5" ry="3" fill="url(#bg)" fill-opacity="0.72" transform="rotate(-22 351 254.4)"/>
<ellipse cx="338" cy="259" rx="5" ry="5" fill="url(#bg)" fill-opacity="0.08"/>
</g></g>
<path d="M308.5,214.6H361.4V267.3" fill="none" stroke="#d0d0d0" stroke-width="1"/>
<path d="M308.5,214.6V267.3H361.4" fill="none" stroke="#8a8a8a" stroke-width="1"/>
<line x1="333.3" y1="214.6" x2="333.3" y2="267.3" stroke="#666" stroke-width="1"/>
<text transform="translate(304.3,222.0) rotate(-62)" font-size="3.9" fill="#666">10<tspan font-size="2.8" dy="-1.4">5</tspan></text>
<rect x="307.9" y="219.1" width="1.6" height="1" fill="#555"/>
<text transform="translate(304.3,233.6) rotate(-62)" font-size="3.9" fill="#666">10<tspan font-size="2.8" dy="-1.4">4</tspan></text>
<rect x="307.9" y="230.7" width="1.6" height="1" fill="#555"/>
<text transform="translate(304.3,246.0) rotate(-62)" font-size="3.9" fill="#666">10<tspan font-size="2.8" dy="-1.4">3</tspan></text>
<rect x="307.9" y="243.1" width="1.6" height="1" fill="#555"/>
<text transform="translate(304.3,258.6) rotate(-62)" font-size="3.9" fill="#666">10<tspan font-size="2.8" dy="-1.4">2</tspan></text>
<rect x="307.9" y="255.7" width="1.6" height="1" fill="#555"/>
<text x="304.3" y="263.3" font-size="3.6" fill="#777">0</text>
<text transform="translate(318.7,274.9) rotate(-35)" font-size="3.9" fill="#666">10<tspan font-size="2.8" dy="-1.4">2</tspan></text>
<rect x="320.2" y="266.7" width="1" height="1.6" fill="#555"/>
<text transform="translate(331.4,274.9) rotate(-35)" font-size="3.9" fill="#666">10<tspan font-size="2.8" dy="-1.4">3</tspan></text>
<rect x="332.9" y="266.7" width="1" height="1.6" fill="#555"/>
<text transform="translate(343.0,274.9) rotate(-35)" font-size="3.9" fill="#666">10<tspan font-size="2.8" dy="-1.4">4</tspan></text>
<rect x="344.5" y="266.7" width="1" height="1.6" fill="#555"/>
<text transform="translate(354.1,274.9) rotate(-35)" font-size="3.9" fill="#666">10<tspan font-size="2.8" dy="-1.4">5</tspan></text>
<rect x="355.6" y="266.7" width="1" height="1.6" fill="#555"/>
<text x="312.1" y="274.5" font-size="3.6" fill="#777">0</text>
<text x="419.0" y="209.7" font-size="10.6" text-anchor="middle" font-weight="normal" fill="#111" >CD56</text>
<text transform="translate(379.0,241.8) rotate(-90) scale(0.72,1)" font-size="11.2" text-anchor="middle" fill="#111">CD56</text>
<g clip-path="url(#cp24)"><g filter="url(#jet)">
<ellipse cx="405" cy="259" rx="12.5" ry="8" fill="url(#bg)" fill-opacity="0.58"/>
<ellipse cx="408.5" cy="258.7" rx="5" ry="4.5" fill="url(#bg)" fill-opacity="1.0"/>
<ellipse cx="400" cy="259.5" rx="6" ry="4" fill="url(#bg)" fill-opacity="0.55"/>
<ellipse cx="406.5" cy="247.5" rx="6.5" ry="6.5" fill="url(#bg)" fill-opacity="0.3"/>
<ellipse cx="407" cy="248" rx="3" ry="3" fill="url(#bg)" fill-opacity="0.45"/>
<ellipse cx="406" cy="252.5" rx="7.5" ry="4" fill="url(#bg)" fill-opacity="0.35"/>
<ellipse cx="431.5" cy="259" rx="13.5" ry="6.5" fill="url(#bg)" fill-opacity="0.55"/>
<ellipse cx="433.3" cy="259" rx="7" ry="3.5" fill="url(#bg)" fill-opacity="0.72"/>
<ellipse cx="429" cy="241" rx="4" ry="9" fill="url(#bg)" fill-opacity="0.015"/>
</g></g>
<path d="M392,214.6H446V267.3" fill="none" stroke="#d0d0d0" stroke-width="1"/>
<path d="M392,214.6V267.3H446" fill="none" stroke="#8a8a8a" stroke-width="1"/>
<line x1="416.5" y1="214.6" x2="416.5" y2="267.3" stroke="#999" stroke-width="1"/>
<line x1="392" y1="252.5" x2="446" y2="252.5" stroke="#999" stroke-width="1"/>
<text transform="translate(387.8,222.0) rotate(-62)" font-size="3.9" fill="#666">10<tspan font-size="2.8" dy="-1.4">5</tspan></text>
<rect x="391.4" y="219.1" width="1.6" height="1" fill="#555"/>
<text transform="translate(387.8,233.6) rotate(-62)" font-size="3.9" fill="#666">10<tspan font-size="2.8" dy="-1.4">4</tspan></text>
<rect x="391.4" y="230.7" width="1.6" height="1" fill="#555"/>
<text transform="translate(387.8,246.0) rotate(-62)" font-size="3.9" fill="#666">10<tspan font-size="2.8" dy="-1.4">3</tspan></text>
<rect x="391.4" y="243.1" width="1.6" height="1" fill="#555"/>
<text transform="translate(387.8,258.6) rotate(-62)" font-size="3.9" fill="#666">10<tspan font-size="2.8" dy="-1.4">2</tspan></text>
<rect x="391.4" y="255.7" width="1.6" height="1" fill="#555"/>
<text x="387.8" y="263.3" font-size="3.6" fill="#777">0</text>
<text transform="translate(402.4,274.9) rotate(-35)" font-size="3.9" fill="#666">10<tspan font-size="2.8" dy="-1.4">2</tspan></text>
<rect x="403.9" y="266.7" width="1" height="1.6" fill="#555"/>
<text transform="translate(415.4,274.9) rotate(-35)" font-size="3.9" fill="#666">10<tspan font-size="2.8" dy="-1.4">3</tspan></text>
<rect x="416.9" y="266.7" width="1" height="1.6" fill="#555"/>
<text transform="translate(427.3,274.9) rotate(-35)" font-size="3.9" fill="#666">10<tspan font-size="2.8" dy="-1.4">4</tspan></text>
<rect x="428.8" y="266.7" width="1" height="1.6" fill="#555"/>
<text transform="translate(438.6,274.9) rotate(-35)" font-size="3.9" fill="#666">10<tspan font-size="2.8" dy="-1.4">5</tspan></text>
<rect x="440.1" y="266.7" width="1" height="1.6" fill="#555"/>
<text x="395.7" y="274.5" font-size="3.6" fill="#777">0</text>
<text x="23.5" y="318.55" font-size="10.3" text-anchor="middle" font-weight="normal" fill="#111" >4</text>
<text transform="translate(48.5,315.8) rotate(-90) scale(0.72,1)" font-size="11.2" text-anchor="middle" fill="#111">CD19</text>
<g clip-path="url(#cp30)"><g filter="url(#jet)">
<ellipse cx="79.3" cy="314.2" rx="4.5" ry="7" fill="url(#bg)" fill-opacity="0.47"/>
<ellipse cx="79.7" cy="334.2" rx="3" ry="4.5" fill="url(#bg)" fill-opacity="1.0"/>
<ellipse cx="80" cy="334" rx="6" ry="7.5" fill="url(#bg)" fill-opacity="0.55"/>
<ellipse cx="70" cy="336" rx="7" ry="2.5" fill="url(#bg)" fill-opacity="0.3"/>
<ellipse cx="100.4" cy="334.8" rx="7.5" ry="3.5" fill="url(#bg)" fill-opacity="0.6"/>
<ellipse cx="97.5" cy="334.5" rx="12" ry="6.5" fill="url(#bg)" fill-opacity="0.4"/>
<ellipse cx="101" cy="314" rx="4" ry="3" fill="url(#bg)" fill-opacity="0.025"/>
</g></g>
<path d="M61.5,288.4H114.3V341.3" fill="none" stroke="#d0d0d0" stroke-width="1"/>
<path d="M61.5,288.4V341.3H114.3" fill="none" stroke="#8a8a8a" stroke-width="1"/>
<line x1="86" y1="288.4" x2="86" y2="341.3" stroke="#999" stroke-width="1"/>
<line x1="61.5" y1="325" x2="114.3" y2="325" stroke="#aaa" stroke-width="1"/>
<text transform="translate(57.3,295.8) rotate(-62)" font-size="3.9" fill="#666">10<tspan font-size="2.8" dy="-1.4">5</tspan></text>
<rect x="60.9" y="292.9" width="1.6" height="1" fill="#555"/>
<text transform="translate(57.3,307.5) rotate(-62)" font-size="3.9" fill="#666">10<tspan font-size="2.8" dy="-1.4">4</tspan></text>
<rect x="60.9" y="304.6" width="1.6" height="1" fill="#555"/>
<text transform="translate(57.3,319.9) rotate(-62)" font-size="3.9" fill="#666">10<tspan font-size="2.8" dy="-1.4">3</tspan></text>
<rect x="60.9" y="317.0" width="1.6" height="1" fill="#555"/>
<text transform="translate(57.3,332.6) rotate(-62)" font-size="3.9" fill="#666">10<tspan font-size="2.8" dy="-1.4">2</tspan></text>
<rect x="60.9" y="329.7" width="1.6" height="1" fill="#555"/>
<text x="57.3" y="337.3" font-size="3.6" fill="#777">0</text>
<text transform="translate(71.6,348.9) rotate(-35)" font-size="3.9" fill="#666">10<tspan font-size="2.8" dy="-1.4">2</tspan></text>
<rect x="73.1" y="340.7" width="1" height="1.6" fill="#555"/>
<text transform="translate(84.3,348.9) rotate(-35)" font-size="3.9" fill="#666">10<tspan font-size="2.8" dy="-1.4">3</tspan></text>
<rect x="85.8" y="340.7" width="1" height="1.6" fill="#555"/>
<text transform="translate(95.9,348.9) rotate(-35)" font-size="3.9" fill="#666">10<tspan font-size="2.8" dy="-1.4">4</tspan></text>
<rect x="97.4" y="340.7" width="1" height="1.6" fill="#555"/>
<text transform="translate(107.0,348.9) rotate(-35)" font-size="3.9" fill="#666">10<tspan font-size="2.8" dy="-1.4">5</tspan></text>
<rect x="108.5" y="340.7" width="1" height="1.6" fill="#555"/>
<text x="65.1" y="348.5" font-size="3.6" fill="#777">0</text>
<text transform="translate(129.4,315.9) rotate(-90) scale(0.72,1)" font-size="11.2" text-anchor="middle" fill="#111">CD3</text>
<g clip-path="url(#cp31)"><g filter="url(#jet)">
<ellipse cx="160.5" cy="316.3" rx="3" ry="3.5" fill="url(#bg)" fill-opacity="1.0"/>
<ellipse cx="160" cy="316" rx="6.5" ry="7.5" fill="url(#bg)" fill-opacity="0.55"/>
<ellipse cx="160" cy="330" rx="4" ry="6.5" fill="url(#bg)" fill-opacity="0.45"/>
<ellipse cx="155" cy="335" rx="10" ry="7" fill="url(#bg)" fill-opacity="0.15"/>
<ellipse cx="180.7" cy="329" rx="7.5" ry="6" fill="url(#bg)" fill-opacity="0.6"/>
<ellipse cx="179" cy="329.5" rx="12.5" ry="11" fill="url(#bg)" fill-opacity="0.4"/>
<ellipse cx="178" cy="326" rx="15" ry="13" fill="url(#bg)" fill-opacity="0.05"/>
</g></g>
<path d="M142.4,288.6H195.7V341.3" fill="none" stroke="#d0d0d0" stroke-width="1"/>
<path d="M142.4,288.6V341.3H195.7" fill="none" stroke="#8a8a8a" stroke-width="1"/>
<line x1="166.5" y1="288.6" x2="166.5" y2="341.3" stroke="#999" stroke-width="1"/>
<line x1="142.4" y1="322.1" x2="195.7" y2="322.1" stroke="#999" stroke-width="1"/>
<text transform="translate(138.2,296.0) rotate(-62)" font-size="3.9" fill="#666">10<tspan font-size="2.8" dy="-1.4">5</tspan></text>
<rect x="141.8" y="293.1" width="1.6" height="1" fill="#555"/>
<text transform="translate(138.2,307.6) rotate(-62)" font-size="3.9" fill="#666">10<tspan font-size="2.8" dy="-1.4">4</tspan></text>
<rect x="141.8" y="304.7" width="1.6" height="1" fill="#555"/>
<text transform="translate(138.2,320.0) rotate(-62)" font-size="3.9" fill="#666">10<tspan font-size="2.8" dy="-1.4">3</tspan></text>
<rect x="141.8" y="317.1" width="1.6" height="1" fill="#555"/>
<text transform="translate(138.2,332.6) rotate(-62)" font-size="3.9" fill="#666">10<tspan font-size="2.8" dy="-1.4">2</tspan></text>
<rect x="141.8" y="329.7" width="1.6" height="1" fill="#555"/>
<text x="138.2" y="337.3" font-size="3.6" fill="#777">0</text>
<text transform="translate(152.7,348.9) rotate(-35)" font-size="3.9" fill="#666">10<tspan font-size="2.8" dy="-1.4">2</tspan></text>
<rect x="154.2" y="340.7" width="1" height="1.6" fill="#555"/>
<text transform="translate(165.5,348.9) rotate(-35)" font-size="3.9" fill="#666">10<tspan font-size="2.8" dy="-1.4">3</tspan></text>
<rect x="167.0" y="340.7" width="1" height="1.6" fill="#555"/>
<text transform="translate(177.2,348.9) rotate(-35)" font-size="3.9" fill="#666">10<tspan font-size="2.8" dy="-1.4">4</tspan></text>
<rect x="178.7" y="340.7" width="1" height="1.6" fill="#555"/>
<text transform="translate(188.4,348.9) rotate(-35)" font-size="3.9" fill="#666">10<tspan font-size="2.8" dy="-1.4">5</tspan></text>
<rect x="189.9" y="340.7" width="1" height="1.6" fill="#555"/>
<text x="146.0" y="348.5" font-size="3.6" fill="#777">0</text>
<text transform="translate(211.3,315.9) rotate(-90) scale(0.72,1)" font-size="11.2" text-anchor="middle" fill="#111">CD4</text>
<g clip-path="url(#cp32)"><g filter="url(#jet)">
<polygon points="226.5,336 233.5,337.8 241.5,336.8 246.9,333.4 248.3,330.5 245.6,328.3 240.2,328.5 234.8,331.6 229.4,334" fill="#000" fill-opacity="0.3" stroke="#000" stroke-opacity="0.150" stroke-width="1" stroke-linejoin="round"/>
<polygon points="247.5,318.5 252,316 260,314.5 268,314.3 271.5,316 272,319.5 269,322 260,322 252,320.5" fill="#000" fill-opacity="0.3" stroke="#000" stroke-opacity="0.150" stroke-width="1" stroke-linejoin="round"/>
<ellipse cx="241.6" cy="316.7" rx="3" ry="3" fill="url(#bg)" fill-opacity="0.92"/>
<ellipse cx="241" cy="316.2" rx="5.5" ry="5.5" fill="url(#bg)" fill-opacity="0.5"/>
<ellipse cx="263" cy="318.3" rx="6.5" ry="2.6" fill="url(#bg)" fill-opacity="0.6"/>
<ellipse cx="242.2" cy="332.8" rx="4" ry="2.2" fill="url(#bg)" fill-opacity="0.55" transform="rotate(-20 242.2 332.8)"/>
<ellipse cx="260" cy="331" rx="6" ry="3" fill="url(#bg)" fill-opacity="0.03"/>
</g></g>
<path d="M224.3,288.6H277.6V341.3" fill="none" stroke="#d0d0d0" stroke-width="1"/>
<path d="M224.3,288.6V341.3H277.6" fill="none" stroke="#8a8a8a" stroke-width="1"/>
<line x1="248.5" y1="288.6" x2="248.5" y2="341.3" stroke="#999" stroke-width="1"/>
<line x1="224.3" y1="325.3" x2="277.6" y2="325.3" stroke="#aaa" stroke-width="1"/>
<text transform="translate(220.1,296.0) rotate(-62)" font-size="3.9" fill="#666">10<tspan font-size="2.8" dy="-1.4">5</tspan></text>
<rect x="223.7" y="293.1" width="1.6" height="1" fill="#555"/>
<text transform="translate(220.1,307.6) rotate(-62)" font-size="3.9" fill="#666">10<tspan font-size="2.8" dy="-1.4">4</tspan></text>
<rect x="223.7" y="304.7" width="1.6" height="1" fill="#555"/>
<text transform="translate(220.1,320.0) rotate(-62)" font-size="3.9" fill="#666">10<tspan font-size="2.8" dy="-1.4">3</tspan></text>
<rect x="223.7" y="317.1" width="1.6" height="1" fill="#555"/>
<text transform="translate(220.1,332.6) rotate(-62)" font-size="3.9" fill="#666">10<tspan font-size="2.8" dy="-1.4">2</tspan></text>
<rect x="223.7" y="329.7" width="1.6" height="1" fill="#555"/>
<text x="220.1" y="337.3" font-size="3.6" fill="#777">0</text>
<text transform="translate(234.6,348.9) rotate(-35)" font-size="3.9" fill="#666">10<tspan font-size="2.8" dy="-1.4">2</tspan></text>
<rect x="236.1" y="340.7" width="1" height="1.6" fill="#555"/>
<text transform="translate(247.4,348.9) rotate(-35)" font-size="3.9" fill="#666">10<tspan font-size="2.8" dy="-1.4">3</tspan></text>
<rect x="248.9" y="340.7" width="1" height="1.6" fill="#555"/>
<text transform="translate(259.1,348.9) rotate(-35)" font-size="3.9" fill="#666">10<tspan font-size="2.8" dy="-1.4">4</tspan></text>
<rect x="260.6" y="340.7" width="1" height="1.6" fill="#555"/>
<text transform="translate(270.3,348.9) rotate(-35)" font-size="3.9" fill="#666">10<tspan font-size="2.8" dy="-1.4">5</tspan></text>
<rect x="271.8" y="340.7" width="1" height="1.6" fill="#555"/>
<text x="227.9" y="348.5" font-size="3.6" fill="#777">0</text>
<text x="273.90000000000003" y="301.9" font-size="12.6" text-anchor="end" fill="#111" stroke="#111" stroke-width="0.32">40</text>
<text transform="translate(295.5,315.9) rotate(-90) scale(0.72,1)" font-size="11.2" text-anchor="middle" fill="#111">CD8</text>
<g clip-path="url(#cp33)"><g filter="url(#jet)">
<ellipse cx="326.8" cy="330.2" rx="3" ry="4" fill="url(#bg)" fill-opacity="1.0"/>
<ellipse cx="325.5" cy="330" rx="7" ry="8" fill="url(#bg)" fill-opacity="0.5"/>
<ellipse cx="329.8" cy="315.5" rx="2.8" ry="10.5" fill="url(#bg)" fill-opacity="0.35" transform="rotate(8 329.8 315.5)"/>
<ellipse cx="318" cy="331" rx="9" ry="11" fill="url(#bg)" fill-opacity="0.05"/>
<ellipse cx="347" cy="329.6" rx="7" ry="2.8" fill="url(#bg)" fill-opacity="0.68"/>
<ellipse cx="345" cy="329.6" rx="12" ry="5" fill="url(#bg)" fill-opacity="0.38"/>
<ellipse cx="345" cy="315" rx="10" ry="8" fill="url(#bg)" fill-opacity="0.015"/>
</g></g>
<path d="M308.5,288.6H361.4V341.3" fill="none" stroke="#d0d0d0" stroke-width="1"/>
<path d="M308.5,288.6V341.3H361.4" fill="none" stroke="#8a8a8a" stroke-width="1"/>
<line x1="332.8" y1="288.6" x2="332.8" y2="341.3" stroke="#777" stroke-width="1"/>
<line x1="308.5" y1="325" x2="361.4" y2="325" stroke="#777" stroke-width="1"/>
<text transform="translate(304.3,296.0) rotate(-62)" font-size="3.9" fill="#666">10<tspan font-size="2.8" dy="-1.4">5</tspan></text>
<rect x="307.9" y="293.1" width="1.6" height="1" fill="#555"/>
<text transform="translate(304.3,307.6) rotate(-62)" font-size="3.9" fill="#666">10<tspan font-size="2.8" dy="-1.4">4</tspan></text>
<rect x="307.9" y="304.7" width="1.6" height="1" fill="#555"/>
<text transform="translate(304.3,320.0) rotate(-62)" font-size="3.9" fill="#666">10<tspan font-size="2.8" dy="-1.4">3</tspan></text>
<rect x="307.9" y="317.1" width="1.6" height="1" fill="#555"/>
<text transform="translate(304.3,332.6) rotate(-62)" font-size="3.9" fill="#666">10<tspan font-size="2.8" dy="-1.4">2</tspan></text>
<rect x="307.9" y="329.7" width="1.6" height="1" fill="#555"/>
<text x="304.3" y="337.3" font-size="3.6" fill="#777">0</text>
<text transform="translate(318.7,348.9) rotate(-35)" font-size="3.9" fill="#666">10<tspan font-size="2.8" dy="-1.4">2</tspan></text>
<rect x="320.2" y="340.7" width="1" height="1.6" fill="#555"/>
<text transform="translate(331.4,348.9) rotate(-35)" font-size="3.9" fill="#666">10<tspan font-size="2.8" dy="-1.4">3</tspan></text>
<rect x="332.9" y="340.7" width="1" height="1.6" fill="#555"/>
<text transform="translate(343.0,348.9) rotate(-35)" font-size="3.9" fill="#666">10<tspan font-size="2.8" dy="-1.4">4</tspan></text>
<rect x="344.5" y="340.7" width="1" height="1.6" fill="#555"/>
<text transform="translate(354.1,348.9) rotate(-35)" font-size="3.9" fill="#666">10<tspan font-size="2.8" dy="-1.4">5</tspan></text>
<rect x="355.6" y="340.7" width="1" height="1.6" fill="#555"/>
<text x="312.1" y="348.5" font-size="3.6" fill="#777">0</text>
<text transform="translate(379.0,315.9) rotate(-90) scale(0.72,1)" font-size="11.2" text-anchor="middle" fill="#111">CD56</text>
<g clip-path="url(#cp34)"><g filter="url(#jet)">
<ellipse cx="410.2" cy="331.3" rx="3" ry="4.5" fill="url(#bg)" fill-opacity="1.0"/>
<ellipse cx="410" cy="331.5" rx="6.5" ry="9.5" fill="url(#bg)" fill-opacity="0.5"/>
<ellipse cx="411" cy="320" rx="3" ry="7" fill="url(#bg)" fill-opacity="0.32"/>
<ellipse cx="401" cy="336.8" rx="7.5" ry="2.6" fill="url(#bg)" fill-opacity="0.3"/>
<ellipse cx="431" cy="331.3" rx="7" ry="3.5" fill="url(#bg)" fill-opacity="0.55"/>
<ellipse cx="429" cy="331.5" rx="11.5" ry="6.5" fill="url(#bg)" fill-opacity="0.38"/>
</g></g>
<path d="M392,288.6H446V341.3" fill="none" stroke="#d0d0d0" stroke-width="1"/>
<path d="M392,288.6V341.3H446" fill="none" stroke="#8a8a8a" stroke-width="1"/>
<line x1="416.5" y1="288.6" x2="416.5" y2="341.3" stroke="#999" stroke-width="1"/>
<line x1="392" y1="325" x2="446" y2="325" stroke="#666" stroke-width="1"/>
<text transform="translate(387.8,296.0) rotate(-62)" font-size="3.9" fill="#666">10<tspan font-size="2.8" dy="-1.4">5</tspan></text>
<rect x="391.4" y="293.1" width="1.6" height="1" fill="#555"/>
<text transform="translate(387.8,307.6) rotate(-62)" font-size="3.9" fill="#666">10<tspan font-size="2.8" dy="-1.4">4</tspan></text>
<rect x="391.4" y="304.7" width="1.6" height="1" fill="#555"/>
<text transform="translate(387.8,320.0) rotate(-62)" font-size="3.9" fill="#666">10<tspan font-size="2.8" dy="-1.4">3</tspan></text>
<rect x="391.4" y="317.1" width="1.6" height="1" fill="#555"/>
<text transform="translate(387.8,332.6) rotate(-62)" font-size="3.9" fill="#666">10<tspan font-size="2.8" dy="-1.4">2</tspan></text>
<rect x="391.4" y="329.7" width="1.6" height="1" fill="#555"/>
<text x="387.8" y="337.3" font-size="3.6" fill="#777">0</text>
<text transform="translate(402.4,348.9) rotate(-35)" font-size="3.9" fill="#666">10<tspan font-size="2.8" dy="-1.4">2</tspan></text>
<rect x="403.9" y="340.7" width="1" height="1.6" fill="#555"/>
<text transform="translate(415.4,348.9) rotate(-35)" font-size="3.9" fill="#666">10<tspan font-size="2.8" dy="-1.4">3</tspan></text>
<rect x="416.9" y="340.7" width="1" height="1.6" fill="#555"/>
<text transform="translate(427.3,348.9) rotate(-35)" font-size="3.9" fill="#666">10<tspan font-size="2.8" dy="-1.4">4</tspan></text>
<rect x="428.8" y="340.7" width="1" height="1.6" fill="#555"/>
<text transform="translate(438.6,348.9) rotate(-35)" font-size="3.9" fill="#666">10<tspan font-size="2.8" dy="-1.4">5</tspan></text>
<rect x="440.1" y="340.7" width="1" height="1.6" fill="#555"/>
<text x="395.7" y="348.5" font-size="3.6" fill="#777">0</text>
<text x="23.5" y="394.75" font-size="10.3" text-anchor="middle" font-weight="normal" fill="#111" >5</text>
<text transform="translate(48.8,391.9) rotate(-90) scale(0.72,1)" font-size="11.2" text-anchor="middle" fill="#111">CD19</text>
<g clip-path="url(#cp40)"><g filter="url(#jet)">
<ellipse cx="75" cy="391.7" rx="4" ry="3.5" fill="url(#bg)" fill-opacity="0.6" transform="rotate(-20 75 391.7)"/>
<ellipse cx="74.5" cy="391.5" rx="8" ry="7.5" fill="url(#bg)" fill-opacity="0.45" transform="rotate(-20 74.5 391.5)"/>
<ellipse cx="73.3" cy="410.8" rx="4" ry="3.5" fill="url(#bg)" fill-opacity="1.0"/>
<ellipse cx="72" cy="410" rx="9.5" ry="8.5" fill="url(#bg)" fill-opacity="0.6"/>
<ellipse cx="103.3" cy="409.6" rx="6.5" ry="4" fill="url(#bg)" fill-opacity="0.5" transform="rotate(-12 103.3 409.6)"/>
<ellipse cx="101" cy="410" rx="12.5" ry="7" fill="url(#bg)" fill-opacity="0.38" transform="rotate(-12 101 410)"/>
<ellipse cx="100" cy="392" rx="10" ry="6" fill="url(#bg)" fill-opacity="0.025"/>
</g></g>
<path d="M61.8,364.8H114.3V417.3" fill="none" stroke="#d0d0d0" stroke-width="1"/>
<path d="M61.8,364.8V417.3H114.3" fill="none" stroke="#8a8a8a" stroke-width="1"/>
<line x1="85.8" y1="364.8" x2="85.8" y2="417.3" stroke="#999" stroke-width="1"/>
<line x1="61.8" y1="401.8" x2="114.3" y2="401.8" stroke="#aaa" stroke-width="1"/>
<text transform="translate(57.6,372.1) rotate(-62)" font-size="3.9" fill="#666">10<tspan font-size="2.8" dy="-1.4">5</tspan></text>
<rect x="61.2" y="369.2" width="1.6" height="1" fill="#555"/>
<text transform="translate(57.6,383.7) rotate(-62)" font-size="3.9" fill="#666">10<tspan font-size="2.8" dy="-1.4">4</tspan></text>
<rect x="61.2" y="380.8" width="1.6" height="1" fill="#555"/>
<text transform="translate(57.6,396.1) rotate(-62)" font-size="3.9" fill="#666">10<tspan font-size="2.8" dy="-1.4">3</tspan></text>
<rect x="61.2" y="393.2" width="1.6" height="1" fill="#555"/>
<text transform="translate(57.6,408.7) rotate(-62)" font-size="3.9" fill="#666">10<tspan font-size="2.8" dy="-1.4">2</tspan></text>
<rect x="61.2" y="405.8" width="1.6" height="1" fill="#555"/>
<text x="57.6" y="413.4" font-size="3.6" fill="#777">0</text>
<text transform="translate(71.9,424.9) rotate(-35)" font-size="3.9" fill="#666">10<tspan font-size="2.8" dy="-1.4">2</tspan></text>
<rect x="73.4" y="416.7" width="1" height="1.6" fill="#555"/>
<text transform="translate(84.5,424.9) rotate(-35)" font-size="3.9" fill="#666">10<tspan font-size="2.8" dy="-1.4">3</tspan></text>
<rect x="86.0" y="416.7" width="1" height="1.6" fill="#555"/>
<text transform="translate(96.0,424.9) rotate(-35)" font-size="3.9" fill="#666">10<tspan font-size="2.8" dy="-1.4">4</tspan></text>
<rect x="97.5" y="416.7" width="1" height="1.6" fill="#555"/>
<text transform="translate(107.0,424.9) rotate(-35)" font-size="3.9" fill="#666">10<tspan font-size="2.8" dy="-1.4">5</tspan></text>
<rect x="108.5" y="416.7" width="1" height="1.6" fill="#555"/>
<text x="65.4" y="424.5" font-size="3.6" fill="#777">0</text>
<text transform="translate(88.0,438.6) scale(0.68,1)" font-size="10.6" text-anchor="middle" fill="#222">EBER</text>
<text transform="translate(129.6,391.9) rotate(-90) scale(0.72,1)" font-size="11.2" text-anchor="middle" fill="#111">CD3</text>
<g clip-path="url(#cp41)"><g filter="url(#jet)">
<polygon points="146.7,386.5 150.7,384.2 158.2,384.8 161.7,387.7 162.8,394.6 162.2,406 161.7,417.3 146.7,417.3 145.5,406 145.5,392.3" fill="#000" fill-opacity="0.3" stroke="#000" stroke-opacity="0.150" stroke-width="1" stroke-linejoin="round"/>
<ellipse cx="154.5" cy="393" rx="7" ry="7" fill="url(#bg)" fill-opacity="0.55"/>
<ellipse cx="154.7" cy="392.1" rx="4" ry="4" fill="url(#bg)" fill-opacity="1.0"/>
<ellipse cx="154.5" cy="405" rx="5" ry="10" fill="url(#bg)" fill-opacity="0.52"/>
<ellipse cx="184.2" cy="394.6" rx="5" ry="3.5" fill="url(#bg)" fill-opacity="0.47"/>
<ellipse cx="182" cy="395" rx="11" ry="8" fill="url(#bg)" fill-opacity="0.38"/>
<ellipse cx="187.5" cy="408" rx="5" ry="10" fill="url(#bg)" fill-opacity="0.22"/>
<ellipse cx="170" cy="394" rx="6" ry="3" fill="url(#bg)" fill-opacity="0.25"/>
<ellipse cx="178" cy="408" rx="12" ry="9" fill="url(#bg)" fill-opacity="0.06"/>
</g></g>
<path d="M142.6,364.8H195.7V417.3" fill="none" stroke="#d0d0d0" stroke-width="1"/>
<path d="M142.6,364.8V417.3H195.7" fill="none" stroke="#8a8a8a" stroke-width="1"/>
<line x1="165.7" y1="364.8" x2="165.7" y2="417.3" stroke="#999" stroke-width="1"/>
<line x1="142.6" y1="400.4" x2="195.7" y2="400.4" stroke="#999" stroke-width="1"/>
<text transform="translate(138.4,372.1) rotate(-62)" font-size="3.9" fill="#666">10<tspan font-size="2.8" dy="-1.4">5</tspan></text>
<rect x="142.0" y="369.2" width="1.6" height="1" fill="#555"/>
<text transform="translate(138.4,383.7) rotate(-62)" font-size="3.9" fill="#666">10<tspan font-size="2.8" dy="-1.4">4</tspan></text>
<rect x="142.0" y="380.8" width="1.6" height="1" fill="#555"/>
<text transform="translate(138.4,396.1) rotate(-62)" font-size="3.9" fill="#666">10<tspan font-size="2.8" dy="-1.4">3</tspan></text>
<rect x="142.0" y="393.2" width="1.6" height="1" fill="#555"/>
<text transform="translate(138.4,408.7) rotate(-62)" font-size="3.9" fill="#666">10<tspan font-size="2.8" dy="-1.4">2</tspan></text>
<rect x="142.0" y="405.8" width="1.6" height="1" fill="#555"/>
<text x="138.4" y="413.4" font-size="3.6" fill="#777">0</text>
<text transform="translate(152.8,424.9) rotate(-35)" font-size="3.9" fill="#666">10<tspan font-size="2.8" dy="-1.4">2</tspan></text>
<rect x="154.3" y="416.7" width="1" height="1.6" fill="#555"/>
<text transform="translate(165.6,424.9) rotate(-35)" font-size="3.9" fill="#666">10<tspan font-size="2.8" dy="-1.4">3</tspan></text>
<rect x="167.1" y="416.7" width="1" height="1.6" fill="#555"/>
<text transform="translate(177.2,424.9) rotate(-35)" font-size="3.9" fill="#666">10<tspan font-size="2.8" dy="-1.4">4</tspan></text>
<rect x="178.7" y="416.7" width="1" height="1.6" fill="#555"/>
<text transform="translate(188.4,424.9) rotate(-35)" font-size="3.9" fill="#666">10<tspan font-size="2.8" dy="-1.4">5</tspan></text>
<rect x="189.9" y="416.7" width="1" height="1.6" fill="#555"/>
<text x="146.2" y="424.5" font-size="3.6" fill="#777">0</text>
<text x="193.1" y="377.9" font-size="12.6" text-anchor="end" fill="#111" stroke="#111" stroke-width="0.32">14</text>
<text transform="translate(169.1,438.6) scale(0.68,1)" font-size="10.6" text-anchor="middle" fill="#222">EBER</text>
<text transform="translate(211.3,391.9) rotate(-90) scale(0.72,1)" font-size="11.2" text-anchor="middle" fill="#111">CD4</text>
<g clip-path="url(#cp42)"><g filter="url(#jet)">
<ellipse cx="235.8" cy="401.5" rx="5" ry="2.5" fill="url(#bg)" fill-opacity="0.6"/>
<ellipse cx="235.5" cy="401.5" rx="8.5" ry="5.5" fill="url(#bg)" fill-opacity="0.42"/>
<ellipse cx="236.4" cy="410.8" rx="4" ry="2.5" fill="url(#bg)" fill-opacity="1.0"/>
<ellipse cx="236" cy="410.8" rx="9.5" ry="5.5" fill="url(#bg)" fill-opacity="0.55"/>
<ellipse cx="264.7" cy="400.4" rx="10.5" ry="3" fill="url(#bg)" fill-opacity="0.18"/>
<ellipse cx="265.8" cy="410.8" rx="5" ry="2.8" fill="url(#bg)" fill-opacity="0.46"/>
<ellipse cx="264.5" cy="410.5" rx="11" ry="5.5" fill="url(#bg)" fill-opacity="0.36"/>
<ellipse cx="251" cy="409" rx="6" ry="3" fill="url(#bg)" fill-opacity="0.15"/>
</g></g>
<path d="M224.3,364.8H277.6V417.3" fill="none" stroke="#d0d0d0" stroke-width="1"/>
<path d="M224.3,364.8V417.3H277.6" fill="none" stroke="#8a8a8a" stroke-width="1"/>
<line x1="247.4" y1="364.8" x2="247.4" y2="417.3" stroke="#999" stroke-width="1"/>
<text transform="translate(220.1,372.1) rotate(-62)" font-size="3.9" fill="#666">10<tspan font-size="2.8" dy="-1.4">5</tspan></text>
<rect x="223.7" y="369.2" width="1.6" height="1" fill="#555"/>
<text transform="translate(220.1,383.7) rotate(-62)" font-size="3.9" fill="#666">10<tspan font-size="2.8" dy="-1.4">4</tspan></text>
<rect x="223.7" y="380.8" width="1.6" height="1" fill="#555"/>
<text transform="translate(220.1,396.1) rotate(-62)" font-size="3.9" fill="#666">10<tspan font-size="2.8" dy="-1.4">3</tspan></text>
<rect x="223.7" y="393.2" width="1.6" height="1" fill="#555"/>
<text transform="translate(220.1,408.7) rotate(-62)" font-size="3.9" fill="#666">10<tspan font-size="2.8" dy="-1.4">2</tspan></text>
<rect x="223.7" y="405.8" width="1.6" height="1" fill="#555"/>
<text x="220.1" y="413.4" font-size="3.6" fill="#777">0</text>
<text transform="translate(234.6,424.9) rotate(-35)" font-size="3.9" fill="#666">10<tspan font-size="2.8" dy="-1.4">2</tspan></text>
<rect x="236.1" y="416.7" width="1" height="1.6" fill="#555"/>
<text transform="translate(247.4,424.9) rotate(-35)" font-size="3.9" fill="#666">10<tspan font-size="2.8" dy="-1.4">3</tspan></text>
<rect x="248.9" y="416.7" width="1" height="1.6" fill="#555"/>
<text transform="translate(259.1,424.9) rotate(-35)" font-size="3.9" fill="#666">10<tspan font-size="2.8" dy="-1.4">4</tspan></text>
<rect x="260.6" y="416.7" width="1" height="1.6" fill="#555"/>
<text transform="translate(270.3,424.9) rotate(-35)" font-size="3.9" fill="#666">10<tspan font-size="2.8" dy="-1.4">5</tspan></text>
<rect x="271.8" y="416.7" width="1" height="1.6" fill="#555"/>
<text x="227.9" y="424.5" font-size="3.6" fill="#777">0</text>
<text x="273.40000000000003" y="377.9" font-size="12.6" text-anchor="end" fill="#111" stroke="#111" stroke-width="0.32">7</text>
<text transform="translate(251.0,438.6) scale(0.68,1)" font-size="10.6" text-anchor="middle" fill="#222">EBER</text>
<text transform="translate(295.5,391.9) rotate(-90) scale(0.72,1)" font-size="11.2" text-anchor="middle" fill="#111">CD8</text>
<g clip-path="url(#cp43)"><g filter="url(#jet)">
<ellipse cx="320.4" cy="388.3" rx="4.5" ry="2.5" fill="url(#bg)" fill-opacity="0.6"/>
<ellipse cx="320" cy="388.3" rx="8" ry="5" fill="url(#bg)" fill-opacity="0.42"/>
<ellipse cx="321" cy="407.3" rx="4" ry="3" fill="url(#bg)" fill-opacity="1.0"/>
<ellipse cx="320.5" cy="406" rx="9" ry="8" fill="url(#bg)" fill-opacity="0.55"/>
<ellipse cx="320" cy="397" rx="6" ry="6" fill="url(#bg)" fill-opacity="0.4"/>
<ellipse cx="352.2" cy="389.4" rx="4.5" ry="2.5" fill="url(#bg)" fill-opacity="0.5"/>
<ellipse cx="350" cy="389.4" rx="9.5" ry="5" fill="url(#bg)" fill-opacity="0.36"/>
<ellipse cx="349.8" cy="405" rx="5" ry="2.5" fill="url(#bg)" fill-opacity="0.48" transform="rotate(-25 349.8 405)"/>
<ellipse cx="347.5" cy="405.5" rx="10" ry="5" fill="url(#bg)" fill-opacity="0.36" transform="rotate(-25 347.5 405.5)"/>
<ellipse cx="345" cy="397" rx="8" ry="8" fill="url(#bg)" fill-opacity="0.12"/>
<ellipse cx="336" cy="396" rx="6" ry="10" fill="url(#bg)" fill-opacity="0.05"/>
</g></g>
<path d="M308.5,364.8H361.4V417.3" fill="none" stroke="#d0d0d0" stroke-width="1"/>
<path d="M308.5,364.8V417.3H361.4" fill="none" stroke="#8a8a8a" stroke-width="1"/>
<line x1="331.6" y1="364.8" x2="331.6" y2="417.3" stroke="#999" stroke-width="1"/>
<line x1="308.5" y1="399.2" x2="361.4" y2="399.2" stroke="#bbb" stroke-width="1"/>
<text transform="translate(304.3,372.1) rotate(-62)" font-size="3.9" fill="#666">10<tspan font-size="2.8" dy="-1.4">5</tspan></text>
<rect x="307.9" y="369.2" width="1.6" height="1" fill="#555"/>
<text transform="translate(304.3,383.7) rotate(-62)" font-size="3.9" fill="#666">10<tspan font-size="2.8" dy="-1.4">4</tspan></text>
<rect x="307.9" y="380.8" width="1.6" height="1" fill="#555"/>
<text transform="translate(304.3,396.1) rotate(-62)" font-size="3.9" fill="#666">10<tspan font-size="2.8" dy="-1.4">3</tspan></text>
<rect x="307.9" y="393.2" width="1.6" height="1" fill="#555"/>
<text transform="translate(304.3,408.7) rotate(-62)" font-size="3.9" fill="#666">10<tspan font-size="2.8" dy="-1.4">2</tspan></text>
<rect x="307.9" y="405.8" width="1.6" height="1" fill="#555"/>
<text x="304.3" y="413.4" font-size="3.6" fill="#777">0</text>
<text transform="translate(318.7,424.9) rotate(-35)" font-size="3.9" fill="#666">10<tspan font-size="2.8" dy="-1.4">2</tspan></text>
<rect x="320.2" y="416.7" width="1" height="1.6" fill="#555"/>
<text transform="translate(331.4,424.9) rotate(-35)" font-size="3.9" fill="#666">10<tspan font-size="2.8" dy="-1.4">3</tspan></text>
<rect x="332.9" y="416.7" width="1" height="1.6" fill="#555"/>
<text transform="translate(343.0,424.9) rotate(-35)" font-size="3.9" fill="#666">10<tspan font-size="2.8" dy="-1.4">4</tspan></text>
<rect x="344.5" y="416.7" width="1" height="1.6" fill="#555"/>
<text transform="translate(354.1,424.9) rotate(-35)" font-size="3.9" fill="#666">10<tspan font-size="2.8" dy="-1.4">5</tspan></text>
<rect x="355.6" y="416.7" width="1" height="1.6" fill="#555"/>
<text x="312.1" y="424.5" font-size="3.6" fill="#777">0</text>
<text x="357.90000000000003" y="377.9" font-size="12.6" text-anchor="end" fill="#111" stroke="#111" stroke-width="0.32">27</text>
<text transform="translate(334.9,438.6) scale(0.68,1)" font-size="10.6" text-anchor="middle" fill="#222">EBER</text>
<text transform="translate(379.0,391.9) rotate(-90) scale(0.72,1)" font-size="11.2" text-anchor="middle" fill="#111">CD56</text>
<g clip-path="url(#cp44)"><g filter="url(#jet)">
<polygon points="403.8,398 413,406.2 414.8,410.8 413,414.8 401.5,415.4 395.2,411.9 395.8,406.2 400.4,400.4" fill="#000" fill-opacity="0.35" stroke="#000" stroke-opacity="0.175" stroke-width="1" stroke-linejoin="round"/>
<ellipse cx="404.4" cy="409.6" rx="4" ry="3" fill="url(#bg)" fill-opacity="1.0"/>
<ellipse cx="404.5" cy="409" rx="7.5" ry="6" fill="url(#bg)" fill-opacity="0.5"/>
<ellipse cx="404.5" cy="396" rx="4" ry="5" fill="url(#bg)" fill-opacity="0.2"/>
<ellipse cx="436.2" cy="392.3" rx="4" ry="3.5" fill="url(#bg)" fill-opacity="0.45"/>
<ellipse cx="435.5" cy="392" rx="8.5" ry="7" fill="url(#bg)" fill-opacity="0.35"/>
<ellipse cx="433.8" cy="409.4" rx="5" ry="3" fill="url(#bg)" fill-opacity="0.46"/>
<ellipse cx="432.5" cy="409.5" rx="12.5" ry="5.5" fill="url(#bg)" fill-opacity="0.36"/>
<ellipse cx="428" cy="398" rx="9" ry="8" fill="url(#bg)" fill-opacity="0.06"/>
</g></g>
<path d="M392,364.8H446V417.3" fill="none" stroke="#d0d0d0" stroke-width="1"/>
<path d="M392,364.8V417.3H446" fill="none" stroke="#8a8a8a" stroke-width="1"/>
<line x1="416.5" y1="364.8" x2="416.5" y2="417.3" stroke="#999" stroke-width="1"/>
<line x1="392" y1="401.8" x2="446" y2="401.8" stroke="#c8c8c8" stroke-width="1"/>
<text transform="translate(387.8,372.1) rotate(-62)" font-size="3.9" fill="#666">10<tspan font-size="2.8" dy="-1.4">5</tspan></text>
<rect x="391.4" y="369.2" width="1.6" height="1" fill="#555"/>
<text transform="translate(387.8,383.7) rotate(-62)" font-size="3.9" fill="#666">10<tspan font-size="2.8" dy="-1.4">4</tspan></text>
<rect x="391.4" y="380.8" width="1.6" height="1" fill="#555"/>
<text transform="translate(387.8,396.1) rotate(-62)" font-size="3.9" fill="#666">10<tspan font-size="2.8" dy="-1.4">3</tspan></text>
<rect x="391.4" y="393.2" width="1.6" height="1" fill="#555"/>
<text transform="translate(387.8,408.7) rotate(-62)" font-size="3.9" fill="#666">10<tspan font-size="2.8" dy="-1.4">2</tspan></text>
<rect x="391.4" y="405.8" width="1.6" height="1" fill="#555"/>
<text x="387.8" y="413.4" font-size="3.6" fill="#777">0</text>
<text transform="translate(402.4,424.9) rotate(-35)" font-size="3.9" fill="#666">10<tspan font-size="2.8" dy="-1.4">2</tspan></text>
<rect x="403.9" y="416.7" width="1" height="1.6" fill="#555"/>
<text transform="translate(415.4,424.9) rotate(-35)" font-size="3.9" fill="#666">10<tspan font-size="2.8" dy="-1.4">3</tspan></text>
<rect x="416.9" y="416.7" width="1" height="1.6" fill="#555"/>
<text transform="translate(427.3,424.9) rotate(-35)" font-size="3.9" fill="#666">10<tspan font-size="2.8" dy="-1.4">4</tspan></text>
<rect x="428.8" y="416.7" width="1" height="1.6" fill="#555"/>
<text transform="translate(438.6,424.9) rotate(-35)" font-size="3.9" fill="#666">10<tspan font-size="2.8" dy="-1.4">5</tspan></text>
<rect x="440.1" y="416.7" width="1" height="1.6" fill="#555"/>
<text x="395.7" y="424.5" font-size="3.6" fill="#777">0</text>
<text x="441.90000000000003" y="377.9" font-size="12.6" text-anchor="end" fill="#111" stroke="#111" stroke-width="0.32">81</text>
<text transform="translate(419.0,438.6) scale(0.68,1)" font-size="10.6" text-anchor="middle" fill="#222">EBER</text>
<g stroke="#fff" stroke-width="0.35" stroke-linejoin="round">
<path d="M65.2,538.6L65.20,495.10A43.5,43.5 0 0 1 70.50,495.42Z" fill="#4772BD"/>
<path d="M65.2,538.6L70.50,495.42A43.5,43.5 0 0 1 81.42,498.24Z" fill="#E67F39"/>
<path d="M65.2,538.6L81.42,498.24A43.5,43.5 0 0 1 95.58,507.47Z" fill="#A5A5A5"/>
<path d="M65.2,538.6L95.58,507.47A43.5,43.5 0 0 1 99.71,512.12Z" fill="#FAC00F"/>
<path d="M65.2,538.6L99.71,512.12A43.5,43.5 0 0 1 103.85,518.65Z" fill="#5F9ACF"/>
<path d="M65.2,538.6L103.85,518.65A43.5,43.5 0 0 1 108.63,536.17Z" fill="#72AB4D"/>
<path d="M65.2,538.6L108.63,536.17A43.5,43.5 0 0 1 108.69,539.66Z" fill="#284474"/>
<path d="M65.2,538.6L108.69,539.66A43.5,43.5 0 0 1 108.68,539.81Z" fill="#994A14"/>
<path d="M65.2,538.6L108.68,539.81A43.5,43.5 0 0 1 107.75,547.64Z" fill="#636363"/>
<path d="M65.2,538.6L107.75,547.64A43.5,43.5 0 0 1 101.01,563.30Z" fill="#967309"/>
<path d="M65.2,538.6L101.01,563.30A43.5,43.5 0 0 1 97.83,567.37Z" fill="#295D8C"/>
<path d="M65.2,538.6L97.83,567.37A43.5,43.5 0 0 1 71.70,581.61Z" fill="#4F6B31"/>
<path d="M65.2,538.6L71.70,581.61A43.5,43.5 0 0 1 70.12,581.82Z" fill="#6C8ECA"/>
<path d="M65.2,538.6L70.12,581.82A43.5,43.5 0 0 1 45.45,577.36Z" fill="#EB9960"/>
<path d="M65.2,538.6L45.45,577.36A43.5,43.5 0 0 1 36.89,571.63Z" fill="#B4B4B4"/>
<path d="M65.2,538.6L36.89,571.63A43.5,43.5 0 0 1 31.30,565.86Z" fill="#FBCD3F"/>
<path d="M65.2,538.6L31.30,565.86A43.5,43.5 0 0 1 25.04,555.32Z" fill="#7FAED9"/>
<path d="M65.2,538.6L25.04,555.32A43.5,43.5 0 0 1 21.88,534.66Z" fill="#8EBF6D"/>
<path d="M65.2,538.6L21.88,534.66A43.5,43.5 0 0 1 22.56,530.00Z" fill="#365A9B"/>
<path d="M65.2,538.6L22.56,530.00A43.5,43.5 0 0 1 24.64,522.87Z" fill="#CB621A"/>
<path d="M65.2,538.6L24.64,522.87A43.5,43.5 0 0 1 36.72,505.72Z" fill="#848484"/>
<path d="M65.2,538.6L36.72,505.72A43.5,43.5 0 0 1 51.76,497.23Z" fill="#C99B1E"/>
<path d="M65.2,538.6L51.76,497.23A43.5,43.5 0 0 1 52.19,497.09Z" fill="#3374B0"/>
<path d="M65.2,538.6L52.19,497.09A43.5,43.5 0 0 1 65.20,495.10Z" fill="#568039"/>
</g>
<circle cx="65.2" cy="538.6" r="43.5" fill="url(#pshade)"/>
<g stroke="#fff" stroke-width="0" stroke-linejoin="round">
<path d="M168,538.2L168.00,494.90A43.3,43.3 0 0 1 169.51,494.93Z" fill="#4772BD"/>
<path d="M168,538.2L169.51,494.93A43.3,43.3 0 0 1 170.64,494.98Z" fill="#E67F39"/>
<path d="M168,538.2L170.64,494.98A43.3,43.3 0 0 1 171.77,495.06Z" fill="#A5A5A5"/>
<path d="M168,538.2L171.77,495.06A43.3,43.3 0 0 1 172.90,495.18Z" fill="#FAC00F"/>
<path d="M168,538.2L172.90,495.18A43.3,43.3 0 0 1 174.03,495.32Z" fill="#5F9ACF"/>
<path d="M168,538.2L174.03,495.32A43.3,43.3 0 0 1 174.77,495.43Z" fill="#72AB4D"/>
<path d="M168,538.2L174.77,495.43A43.3,43.3 0 0 1 175.37,495.53Z" fill="#284474"/>
<path d="M168,538.2L175.37,495.53A43.3,43.3 0 0 1 176.63,495.77Z" fill="#994A14"/>
<path d="M168,538.2L176.63,495.77A43.3,43.3 0 0 1 177.37,495.93Z" fill="#636363"/>
<path d="M168,538.2L177.37,495.93A43.3,43.3 0 0 1 178.48,496.19Z" fill="#967309"/>
<path d="M168,538.2L178.48,496.19A43.3,43.3 0 0 1 178.99,496.32Z" fill="#295D8C"/>
<path d="M168,538.2L178.99,496.32A43.3,43.3 0 1 1 157.82,496.11Z" fill="#4F6B31"/>
<path d="M168,538.2L157.82,496.11A43.3,43.3 0 0 1 158.26,496.01Z" fill="#6C8ECA"/>
<path d="M168,538.2L158.26,496.01A43.3,43.3 0 0 1 160.48,495.56Z" fill="#EB9960"/>
<path d="M168,538.2L160.48,495.56A43.3,43.3 0 0 1 161.97,495.32Z" fill="#B4B4B4"/>
<path d="M168,538.2L161.97,495.32A43.3,43.3 0 0 1 163.10,495.18Z" fill="#FBCD3F"/>
<path d="M168,538.2L163.10,495.18A43.3,43.3 0 0 1 164.23,495.06Z" fill="#7FAED9"/>
<path d="M168,538.2L164.23,495.06A43.3,43.3 0 0 1 164.98,495.01Z" fill="#8EBF6D"/>
<path d="M168,538.2L164.98,495.01A43.3,43.3 0 0 1 165.36,494.98Z" fill="#365A9B"/>
<path d="M168,538.2L165.36,494.98A43.3,43.3 0 0 1 166.11,494.94Z" fill="#CB621A"/>
<path d="M168,538.2L166.11,494.94A43.3,43.3 0 0 1 166.72,494.92Z" fill="#848484"/>
<path d="M168,538.2L166.72,494.92A43.3,43.3 0 0 1 167.24,494.91Z" fill="#C99B1E"/>
<path d="M168,538.2L167.24,494.91A43.3,43.3 0 0 1 167.62,494.90Z" fill="#3374B0"/>
<path d="M168,538.2L167.62,494.90A43.3,43.3 0 0 1 168.00,494.90Z" fill="#568039"/>
</g>
<circle cx="168" cy="538.2" r="43.3" fill="url(#pshade)"/>
<g stroke="#fff" stroke-width="0.35" stroke-linejoin="round">
<path d="M275.3,538.9L275.30,495.40A43.5,43.5 0 0 1 279.24,495.58Z" fill="#4772BD"/>
<path d="M275.3,538.9L279.24,495.58A43.5,43.5 0 0 1 283.00,496.09Z" fill="#E67F39"/>
<path d="M275.3,538.9L283.00,496.09A43.5,43.5 0 0 1 312.70,516.69Z" fill="#A5A5A5"/>
<path d="M275.3,538.9L312.70,516.69A43.5,43.5 0 0 1 318.13,531.27Z" fill="#FAC00F"/>
<path d="M275.3,538.9L318.13,531.27A43.5,43.5 0 0 1 318.34,545.18Z" fill="#5F9ACF"/>
<path d="M275.3,538.9L318.34,545.18A43.5,43.5 0 0 1 317.60,549.05Z" fill="#72AB4D"/>
<path d="M275.3,538.9L317.60,549.05A43.5,43.5 0 0 1 313.53,559.66Z" fill="#284474"/>
<path d="M275.3,538.9L313.53,559.66A43.5,43.5 0 0 1 304.07,571.53Z" fill="#994A14"/>
<path d="M275.3,538.9L304.07,571.53A43.5,43.5 0 0 1 294.03,578.16Z" fill="#636363"/>
<path d="M275.3,538.9L294.03,578.16A43.5,43.5 0 0 1 274.16,582.39Z" fill="#967309"/>
<path d="M275.3,538.9L274.16,582.39A43.5,43.5 0 0 1 265.51,581.29Z" fill="#295D8C"/>
<path d="M275.3,538.9L265.51,581.29A43.5,43.5 0 0 1 257.33,578.51Z" fill="#4F6B31"/>
<path d="M275.3,538.9L257.33,578.51A43.5,43.5 0 0 1 253.75,576.69Z" fill="#6C8ECA"/>
<path d="M275.3,538.9L253.75,576.69A43.5,43.5 0 0 1 233.68,551.55Z" fill="#EB9960"/>
<path d="M275.3,538.9L233.68,551.55A43.5,43.5 0 0 1 232.88,548.54Z" fill="#B4B4B4"/>
<path d="M275.3,538.9L232.88,548.54A43.5,43.5 0 0 1 232.17,544.58Z" fill="#FBCD3F"/>
<path d="M275.3,538.9L232.17,544.58A43.5,43.5 0 0 1 231.95,535.26Z" fill="#7FAED9"/>
<path d="M275.3,538.9L231.95,535.26A43.5,43.5 0 0 1 232.53,530.97Z" fill="#8EBF6D"/>
<path d="M275.3,538.9L232.53,530.97A43.5,43.5 0 0 1 233.32,527.49Z" fill="#365A9B"/>
<path d="M275.3,538.9L233.32,527.49A43.5,43.5 0 0 1 237.94,516.63Z" fill="#CB621A"/>
<path d="M275.3,538.9L237.94,516.63A43.5,43.5 0 0 1 242.52,510.30Z" fill="#848484"/>
<path d="M275.3,538.9L242.52,510.30A43.5,43.5 0 0 1 262.73,497.26Z" fill="#C99B1E"/>
<path d="M275.3,538.9L262.73,497.26A43.5,43.5 0 0 1 271.81,495.54Z" fill="#3374B0"/>
<path d="M275.3,538.9L271.81,495.54A43.5,43.5 0 0 1 275.30,495.40Z" fill="#568039"/>
</g>
<circle cx="275.3" cy="538.9" r="43.5" fill="url(#pshade)"/>
<g stroke="#fff" stroke-width="0" stroke-linejoin="round">
<path d="M378.9,537.8L378.90,495.00A42.8,42.8 0 0 1 380.02,495.01Z" fill="#4772BD"/>
<path d="M378.9,537.8L380.02,495.01A42.8,42.8 0 0 1 381.14,495.06Z" fill="#E67F39"/>
<path d="M378.9,537.8L381.14,495.06A42.8,42.8 0 0 1 381.89,495.10Z" fill="#A5A5A5"/>
<path d="M378.9,537.8L381.89,495.10A42.8,42.8 0 0 1 382.63,495.16Z" fill="#FAC00F"/>
<path d="M378.9,537.8L382.63,495.16A42.8,42.8 0 0 1 383.37,495.23Z" fill="#5F9ACF"/>
<path d="M378.9,537.8L383.37,495.23A42.8,42.8 0 0 1 383.75,495.28Z" fill="#72AB4D"/>
<path d="M378.9,537.8L383.75,495.28A42.8,42.8 0 0 1 384.12,495.32Z" fill="#284474"/>
<path d="M378.9,537.8L384.12,495.32A42.8,42.8 0 0 1 384.49,495.37Z" fill="#994A14"/>
<path d="M378.9,537.8L384.49,495.37A42.8,42.8 0 0 1 384.86,495.42Z" fill="#636363"/>
<path d="M378.9,537.8L384.86,495.42A42.8,42.8 0 0 1 385.23,495.47Z" fill="#967309"/>
<path d="M378.9,537.8L385.23,495.47A42.8,42.8 0 0 1 385.60,495.53Z" fill="#295D8C"/>
<path d="M378.9,537.8L385.60,495.53A42.8,42.8 0 0 1 385.96,495.59Z" fill="#4F6B31"/>
<path d="M378.9,537.8L385.96,495.59A42.8,42.8 0 0 1 386.33,495.65Z" fill="#6C8ECA"/>
<path d="M378.9,537.8L386.33,495.65A42.8,42.8 0 0 1 387.51,495.87Z" fill="#EB9960"/>
<path d="M378.9,537.8L387.51,495.87A42.8,42.8 0 1 1 374.57,495.22Z" fill="#B4B4B4"/>
<path d="M378.9,537.8L374.57,495.22A42.8,42.8 0 0 1 376.29,495.08Z" fill="#FBCD3F"/>
<path d="M378.9,537.8L376.29,495.08A42.8,42.8 0 0 1 376.66,495.06Z" fill="#7FAED9"/>
<path d="M378.9,537.8L376.66,495.06A42.8,42.8 0 0 1 377.03,495.04Z" fill="#8EBF6D"/>
<path d="M378.9,537.8L377.03,495.04A42.8,42.8 0 0 1 377.78,495.01Z" fill="#365A9B"/>
<path d="M378.9,537.8L377.78,495.01A42.8,42.8 0 0 1 378.15,495.01Z" fill="#CB621A"/>
<path d="M378.9,537.8L378.15,495.01A42.8,42.8 0 0 1 378.53,495.00Z" fill="#848484"/>
<path d="M378.9,537.8L378.53,495.00A42.8,42.8 0 0 1 378.68,495.00Z" fill="#C99B1E"/>
<path d="M378.9,537.8L378.68,495.00A42.8,42.8 0 0 1 378.79,495.00Z" fill="#3374B0"/>
<path d="M378.9,537.8L378.79,495.00A42.8,42.8 0 0 1 378.90,495.00Z" fill="#568039"/>
</g>
<circle cx="378.9" cy="537.8" r="42.8" fill="url(#pshade)"/>
<g stroke="#fff" stroke-width="0.35" stroke-linejoin="round">
<path d="M65.3,689.4L65.30,646.00A43.4,43.4 0 0 1 69.01,646.16Z" fill="#4772BD"/>
<path d="M65.3,689.4L69.01,646.16A43.4,43.4 0 0 1 75.80,647.29Z" fill="#E67F39"/>
<path d="M65.3,689.4L75.80,647.29A43.4,43.4 0 0 1 95.67,658.39Z" fill="#A5A5A5"/>
<path d="M65.3,689.4L95.67,658.39A43.4,43.4 0 0 1 96.26,658.98Z" fill="#FAC00F"/>
<path d="M65.3,689.4L96.26,658.98A43.4,43.4 0 0 1 105.71,673.56Z" fill="#5F9ACF"/>
<path d="M65.3,689.4L105.71,673.56A43.4,43.4 0 0 1 107.04,677.51Z" fill="#72AB4D"/>
<path d="M65.3,689.4L107.04,677.51A43.4,43.4 0 0 1 108.69,690.31Z" fill="#284474"/>
<path d="M65.3,689.4L108.69,690.31A43.4,43.4 0 0 1 98.40,717.47Z" fill="#994A14"/>
<path d="M65.3,689.4L98.40,717.47A43.4,43.4 0 0 1 90.99,724.38Z" fill="#636363"/>
<path d="M65.3,689.4L90.99,724.38A43.4,43.4 0 0 1 73.80,731.96Z" fill="#967309"/>
<path d="M65.3,689.4L73.80,731.96A43.4,43.4 0 0 1 66.36,732.79Z" fill="#295D8C"/>
<path d="M65.3,689.4L66.36,732.79A43.4,43.4 0 0 1 49.39,729.78Z" fill="#4F6B31"/>
<path d="M65.3,689.4L49.39,729.78A43.4,43.4 0 0 1 45.19,727.86Z" fill="#6C8ECA"/>
<path d="M65.3,689.4L45.19,727.86A43.4,43.4 0 0 1 22.67,697.53Z" fill="#EB9960"/>
<path d="M65.3,689.4L22.67,697.53A43.4,43.4 0 0 1 21.96,691.67Z" fill="#B4B4B4"/>
<path d="M65.3,689.4L21.96,691.67A43.4,43.4 0 0 1 21.90,689.40Z" fill="#FBCD3F"/>
<path d="M65.3,689.4L21.90,689.40A43.4,43.4 0 0 1 24.29,675.20Z" fill="#7FAED9"/>
<path d="M65.3,689.4L24.29,675.20A43.4,43.4 0 0 1 28.82,665.89Z" fill="#8EBF6D"/>
<path d="M65.3,689.4L28.82,665.89A43.4,43.4 0 0 1 30.64,663.28Z" fill="#365A9B"/>
<path d="M65.3,689.4L30.64,663.28A43.4,43.4 0 0 1 42.30,652.59Z" fill="#CB621A"/>
<path d="M65.3,689.4L42.30,652.59A43.4,43.4 0 0 1 43.93,651.63Z" fill="#848484"/>
<path d="M65.3,689.4L43.93,651.63A43.4,43.4 0 0 1 53.12,647.74Z" fill="#C99B1E"/>
<path d="M65.3,689.4L53.12,647.74A43.4,43.4 0 0 1 60.69,646.25Z" fill="#3374B0"/>
<path d="M65.3,689.4L60.69,646.25A43.4,43.4 0 0 1 65.30,646.00Z" fill="#568039"/>
</g>
<circle cx="65.3" cy="689.4" r="43.4" fill="url(#pshade)"/>
<g stroke="#fff" stroke-width="0.35" stroke-linejoin="round">
<path d="M168,688.8L168.00,645.40A43.4,43.4 0 0 1 170.65,645.48Z" fill="#4772BD"/>
<path d="M168,688.8L170.65,645.48A43.4,43.4 0 0 1 176.28,646.20Z" fill="#E67F39"/>
<path d="M168,688.8L176.28,646.20A43.4,43.4 0 0 1 192.46,652.95Z" fill="#A5A5A5"/>
<path d="M168,688.8L192.46,652.95A43.4,43.4 0 0 1 193.20,653.47Z" fill="#FAC00F"/>
<path d="M168,688.8L193.20,653.47A43.4,43.4 0 0 1 206.64,669.03Z" fill="#5F9ACF"/>
<path d="M168,688.8L206.64,669.03A43.4,43.4 0 0 1 208.35,672.82Z" fill="#72AB4D"/>
<path d="M168,688.8L208.35,672.82A43.4,43.4 0 0 1 210.96,682.61Z" fill="#284474"/>
<path d="M168,688.8L210.96,682.61A43.4,43.4 0 0 1 205.32,710.96Z" fill="#994A14"/>
<path d="M168,688.8L205.32,710.96A43.4,43.4 0 0 1 199.79,718.34Z" fill="#636363"/>
<path d="M168,688.8L199.79,718.34A43.4,43.4 0 0 1 183.06,729.50Z" fill="#967309"/>
<path d="M168,688.8L183.06,729.50A43.4,43.4 0 0 1 178.50,730.91Z" fill="#295D8C"/>
<path d="M168,688.8L178.50,730.91A43.4,43.4 0 0 1 152.59,729.37Z" fill="#4F6B31"/>
<path d="M168,688.8L152.59,729.37A43.4,43.4 0 0 1 148.77,727.71Z" fill="#6C8ECA"/>
<path d="M168,688.8L148.77,727.71A43.4,43.4 0 0 1 127.65,704.78Z" fill="#EB9960"/>
<path d="M168,688.8L127.65,704.78A43.4,43.4 0 0 1 125.40,697.08Z" fill="#B4B4B4"/>
<path d="M168,688.8L125.40,697.08A43.4,43.4 0 0 1 125.00,694.69Z" fill="#FBCD3F"/>
<path d="M168,688.8L125.00,694.69A43.4,43.4 0 0 1 124.90,683.74Z" fill="#7FAED9"/>
<path d="M168,688.8L124.90,683.74A43.4,43.4 0 0 1 126.63,675.68Z" fill="#8EBF6D"/>
<path d="M168,688.8L126.63,675.68A43.4,43.4 0 0 1 127.35,673.60Z" fill="#365A9B"/>
<path d="M168,688.8L127.35,673.60A43.4,43.4 0 0 1 134.61,661.08Z" fill="#CB621A"/>
<path d="M168,688.8L134.61,661.08A43.4,43.4 0 0 1 136.00,659.48Z" fill="#848484"/>
<path d="M168,688.8L136.00,659.48A43.4,43.4 0 0 1 146.30,651.21Z" fill="#C99B1E"/>
<path d="M168,688.8L146.30,651.21A43.4,43.4 0 0 1 162.64,645.73Z" fill="#3374B0"/>
<path d="M168,688.8L162.64,645.73A43.4,43.4 0 0 1 168.00,645.40Z" fill="#568039"/>
</g>
<circle cx="168" cy="688.8" r="43.4" fill="url(#pshade)"/>
<g stroke="#fff" stroke-width="0.35" stroke-linejoin="round">
<path d="M277.3,689L277.30,645.60A43.4,43.4 0 0 1 280.78,645.74Z" fill="#4772BD"/>
<path d="M277.3,689L280.78,645.74A43.4,43.4 0 0 1 293.21,648.62Z" fill="#E67F39"/>
<path d="M277.3,689L293.21,648.62A43.4,43.4 0 0 1 312.98,664.29Z" fill="#A5A5A5"/>
<path d="M277.3,689L312.98,664.29A43.4,43.4 0 0 1 313.28,664.73Z" fill="#FAC00F"/>
<path d="M277.3,689L313.28,664.73A43.4,43.4 0 0 1 320.39,683.79Z" fill="#5F9ACF"/>
<path d="M277.3,689L320.39,683.79A43.4,43.4 0 0 1 320.70,688.70Z" fill="#72AB4D"/>
<path d="M277.3,689L320.70,688.70A43.4,43.4 0 0 1 320.64,691.35Z" fill="#284474"/>
<path d="M277.3,689L320.64,691.35A43.4,43.4 0 0 1 317.62,705.05Z" fill="#994A14"/>
<path d="M277.3,689L317.62,705.05A43.4,43.4 0 0 1 312.14,714.88Z" fill="#636363"/>
<path d="M277.3,689L312.14,714.88A43.4,43.4 0 0 1 298.74,726.74Z" fill="#967309"/>
<path d="M277.3,689L298.74,726.74A43.4,43.4 0 0 1 294.47,728.86Z" fill="#295D8C"/>
<path d="M277.3,689L294.47,728.86A43.4,43.4 0 0 1 285.13,731.69Z" fill="#4F6B31"/>
<path d="M277.3,689L285.13,731.69A43.4,43.4 0 0 1 277.83,732.40Z" fill="#6C8ECA"/>
<path d="M277.3,689L277.83,732.40A43.4,43.4 0 0 1 254.11,725.68Z" fill="#EB9960"/>
<path d="M277.3,689L254.11,725.68A43.4,43.4 0 0 1 248.77,721.70Z" fill="#B4B4B4"/>
<path d="M277.3,689L248.77,721.70A43.4,43.4 0 0 1 240.49,712.00Z" fill="#FBCD3F"/>
<path d="M277.3,689L240.49,712.00A43.4,43.4 0 0 1 234.06,685.29Z" fill="#7FAED9"/>
<path d="M277.3,689L234.06,685.29A43.4,43.4 0 0 1 237.47,671.76Z" fill="#8EBF6D"/>
<path d="M277.3,689L237.47,671.76A43.4,43.4 0 0 1 239.09,668.42Z" fill="#365A9B"/>
<path d="M277.3,689L239.09,668.42A43.4,43.4 0 0 1 248.20,656.80Z" fill="#CB621A"/>
<path d="M277.3,689L248.20,656.80A43.4,43.4 0 0 1 252.84,653.15Z" fill="#848484"/>
<path d="M277.3,689L252.84,653.15A43.4,43.4 0 0 1 256.52,650.90Z" fill="#C99B1E"/>
<path d="M277.3,689L256.52,650.90A43.4,43.4 0 0 1 263.10,647.99Z" fill="#3374B0"/>
<path d="M277.3,689L263.10,647.99A43.4,43.4 0 0 1 277.30,645.60Z" fill="#568039"/>
</g>
<circle cx="277.3" cy="689" r="43.4" fill="url(#pshade)"/>
<g stroke="#fff" stroke-width="0.35" stroke-linejoin="round">
<path d="M380.5,689.3L380.50,645.90A43.4,43.4 0 0 1 381.11,645.90Z" fill="#4772BD"/>
<path d="M380.5,689.3L381.11,645.90A43.4,43.4 0 0 1 382.39,645.94Z" fill="#E67F39"/>
<path d="M380.5,689.3L382.39,645.94A43.4,43.4 0 0 1 388.26,646.60Z" fill="#A5A5A5"/>
<path d="M380.5,689.3L388.26,646.60A43.4,43.4 0 0 1 389.52,646.85Z" fill="#FAC00F"/>
<path d="M380.5,689.3L389.52,646.85A43.4,43.4 0 0 1 395.84,648.70Z" fill="#5F9ACF"/>
<path d="M380.5,689.3L395.84,648.70A43.4,43.4 0 0 1 401.21,651.16Z" fill="#72AB4D"/>
<path d="M380.5,689.3L401.21,651.16A43.4,43.4 0 0 1 402.53,651.91Z" fill="#284474"/>
<path d="M380.5,689.3L402.53,651.91A43.4,43.4 0 0 1 406.07,654.23Z" fill="#994A14"/>
<path d="M380.5,689.3L406.07,654.23A43.4,43.4 0 0 1 413.35,660.94Z" fill="#636363"/>
<path d="M380.5,689.3L413.35,660.94A43.4,43.4 0 0 1 416.90,665.66Z" fill="#967309"/>
<path d="M380.5,689.3L416.90,665.66A43.4,43.4 0 0 1 418.20,667.80Z" fill="#295D8C"/>
<path d="M380.5,689.3L418.20,667.80A43.4,43.4 0 0 1 420.27,671.92Z" fill="#4F6B31"/>
<path d="M380.5,689.3L420.27,671.92A43.4,43.4 0 0 1 423.03,680.65Z" fill="#6C8ECA"/>
<path d="M380.5,689.3L423.03,680.65A43.4,43.4 0 0 1 423.77,692.63Z" fill="#EB9960"/>
<path d="M380.5,689.3L423.77,692.63A43.4,43.4 0 0 1 423.52,695.04Z" fill="#B4B4B4"/>
<path d="M380.5,689.3L423.52,695.04A43.4,43.4 0 0 1 422.72,699.36Z" fill="#FBCD3F"/>
<path d="M380.5,689.3L422.72,699.36A43.4,43.4 0 0 1 419.31,708.73Z" fill="#7FAED9"/>
<path d="M380.5,689.3L419.31,708.73A43.4,43.4 0 0 1 419.00,709.34Z" fill="#8EBF6D"/>
<path d="M380.5,689.3L419.00,709.34A43.4,43.4 0 0 1 418.64,710.01Z" fill="#365A9B"/>
<path d="M380.5,689.3L418.64,710.01A43.4,43.4 0 0 1 417.50,711.98Z" fill="#CB621A"/>
<path d="M380.5,689.3L417.50,711.98A43.4,43.4 0 0 1 416.31,713.82Z" fill="#848484"/>
<path d="M380.5,689.3L416.31,713.82A43.4,43.4 0 1 1 377.85,645.98Z" fill="#C99B1E"/>
<path d="M380.5,689.3L377.85,645.98A43.4,43.4 0 0 1 378.61,645.94Z" fill="#3374B0"/>
<path d="M380.5,689.3L378.61,645.94A43.4,43.4 0 0 1 380.50,645.90Z" fill="#568039"/>
</g>
<circle cx="380.5" cy="689.3" r="43.4" fill="url(#pshade)"/>
<text x="119.2" y="463.2" font-size="9.2" text-anchor="middle" font-weight="normal" fill="#222" >Patient 3</text>
<text x="119.2" y="473.5" font-size="9.2" text-anchor="middle" font-weight="normal" fill="#222" >CD4+ T cells</text>
<text x="326.6" y="463.2" font-size="9.2" text-anchor="middle" font-weight="normal" fill="#222" >Patient 4</text>
<text x="326.6" y="473.5" font-size="9.2" text-anchor="middle" font-weight="normal" fill="#222" >CD4+ T cells</text>
<text x="119.2" y="607.6" font-size="9.2" text-anchor="middle" font-weight="normal" fill="#222" >Patient 5</text>
<text x="119.2" y="617.9000000000001" font-size="9.2" text-anchor="middle" font-weight="normal" fill="#222" >CD4+ T cells</text>
<text x="326.6" y="607.6" font-size="9.2" text-anchor="middle" font-weight="normal" fill="#222" >Patient 5</text>
<text x="326.6" y="617.9000000000001" font-size="9.2" text-anchor="middle" font-weight="normal" fill="#222" >CD8+ T cells</text>
<text x="52.2" y="490.5" font-size="9.2" fill="#222" textLength="21.6" lengthAdjust="spacingAndGlyphs">EBER</text>
<text x="74.0" y="486.3" font-size="5.6" fill="#222">NEG</text>
<text x="154" y="490.5" font-size="9.2" fill="#222" textLength="21.6" lengthAdjust="spacingAndGlyphs">EBER</text>
<text x="175.8" y="486.3" font-size="5.6" fill="#222">POS</text>
<text x="261.3" y="490.5" font-size="9.2" fill="#222" textLength="21.6" lengthAdjust="spacingAndGlyphs">EBER</text>
<text x="283.1" y="486.3" font-size="5.6" fill="#222">NEG</text>
<text x="362.3" y="490.5" font-size="9.2" fill="#222" textLength="21.6" lengthAdjust="spacingAndGlyphs">EBER</text>
<text x="384.1" y="486.3" font-size="5.6" fill="#222">POS</text>
<text x="52.2" y="634.8" font-size="9.2" fill="#222" textLength="21.6" lengthAdjust="spacingAndGlyphs">EBER</text>
<text x="74.0" y="630.5999999999999" font-size="5.6" fill="#222">NEG</text>
<text x="154" y="634.8" font-size="9.2" fill="#222" textLength="21.6" lengthAdjust="spacingAndGlyphs">EBER</text>
<text x="175.8" y="630.5999999999999" font-size="5.6" fill="#222">POS</text>
<text x="261.3" y="634.8" font-size="9.2" fill="#222" textLength="21.6" lengthAdjust="spacingAndGlyphs">EBER</text>
<text x="283.1" y="630.5999999999999" font-size="5.6" fill="#222">NEG</text>
<text x="362.3" y="634.8" font-size="9.2" fill="#222" textLength="21.6" lengthAdjust="spacingAndGlyphs">EBER</text>
<text x="384.1" y="630.5999999999999" font-size="5.6" fill="#222">POS</text>
<rect x="447.2" y="473.4" width="6" height="5.7" fill="#4472C4"/>
<text x="456.2" y="479.2" font-size="8.7" fill="#333">5.3</text>
<rect x="485.9" y="473.4" width="6" height="5.7" fill="#ED7D31"/>
<text x="494.9" y="479.2" font-size="8.7" fill="#333">7.1</text>
<rect x="447.2" y="496.2" width="6" height="5.7" fill="#A5A5A5"/>
<text x="456.2" y="502.0" font-size="8.7" fill="#333">3</text>
<rect x="485.9" y="496.2" width="6" height="5.7" fill="#FFC000"/>
<text x="494.9" y="502.0" font-size="8.7" fill="#333">9</text>
<rect x="447.2" y="519.0" width="6" height="5.7" fill="#5B9BD5"/>
<text x="456.2" y="524.8" font-size="8.7" fill="#333">17</text>
<rect x="485.9" y="519.0" width="6" height="5.7" fill="#70AD47"/>
<text x="494.9" y="524.8" font-size="8.7" fill="#333">16</text>
<rect x="447.2" y="541.8" width="6" height="5.7" fill="#264478"/>
<text x="456.2" y="547.5999999999999" font-size="8.7" fill="#333">18</text>
<rect x="485.9" y="541.8" width="6" height="5.7" fill="#9E480E"/>
<text x="494.9" y="547.5999999999999" font-size="8.7" fill="#333">5.1</text>
<rect x="447.2" y="564.6" width="6" height="5.7" fill="#636363"/>
<text x="456.2" y="570.4" font-size="8.7" fill="#333">20</text>
<rect x="485.9" y="564.6" width="6" height="5.7" fill="#997300"/>
<text x="494.9" y="570.4" font-size="8.7" fill="#333">13.1</text>
<rect x="447.2" y="587.4" width="6" height="5.7" fill="#255E91"/>
<text x="456.2" y="593.1999999999999" font-size="8.7" fill="#333">13.6</text>
<rect x="485.9" y="587.4" width="6" height="5.7" fill="#43682B"/>
<text x="494.9" y="593.1999999999999" font-size="8.7" fill="#333">8</text>
<rect x="447.2" y="610.2" width="6" height="5.7" fill="#698ED0"/>
<text x="456.2" y="616.0" font-size="8.7" fill="#333">5.2</text>
<rect x="485.9" y="610.2" width="6" height="5.7" fill="#F1975A"/>
<text x="494.9" y="616.0" font-size="8.7" fill="#333">2</text>
<rect x="447.2" y="633.0" width="6" height="5.7" fill="#B7B7B7"/>
<text x="456.2" y="638.8" font-size="8.7" fill="#333">12</text>
<rect x="485.9" y="633.0" width="6" height="5.7" fill="#FFCD33"/>
<text x="494.9" y="638.8" font-size="8.7" fill="#333">23</text>
<rect x="447.2" y="655.8" width="6" height="5.7" fill="#7CAFDD"/>
<text x="456.2" y="661.5999999999999" font-size="8.7" fill="#333">1</text>
<rect x="485.9" y="655.8" width="6" height="5.7" fill="#8CC168"/>
<text x="494.9" y="661.5999999999999" font-size="8.7" fill="#333">21.3</text>
<rect x="447.2" y="678.6" width="6" height="5.7" fill="#335AA1"/>
<text x="456.2" y="684.4" font-size="8.7" fill="#333">11</text>
<rect x="485.9" y="678.6" width="6" height="5.7" fill="#D26012"/>
<text x="494.9" y="684.4" font-size="8.7" fill="#333">22</text>
<rect x="447.2" y="701.4" width="6" height="5.7" fill="#848484"/>
<text x="456.2" y="707.1999999999999" font-size="8.7" fill="#333">14</text>
<rect x="485.9" y="701.4" width="6" height="5.7" fill="#CC9A00"/>
<text x="494.9" y="707.1999999999999" font-size="8.7" fill="#333">13.2</text>
<rect x="447.2" y="724.2" width="6" height="5.7" fill="#2E75B6"/>
<text x="456.2" y="730.0" font-size="8.7" fill="#333">4</text>
<rect x="485.9" y="724.2" width="6" height="5.7" fill="#548235"/>
<text x="494.9" y="730.0" font-size="8.7" fill="#333">7.2</text>
</g>
<rect x="0" y="0" width="520" height="1" fill="#000"/>
<rect x="0" y="0" width="1.1" height="744" fill="#000"/>
<rect x="518.9" y="0" width="1.1" height="744" fill="#000"/>
<rect x="0" y="742.4" width="520" height="1.6" fill="#000"/>
</svg></body></html>
